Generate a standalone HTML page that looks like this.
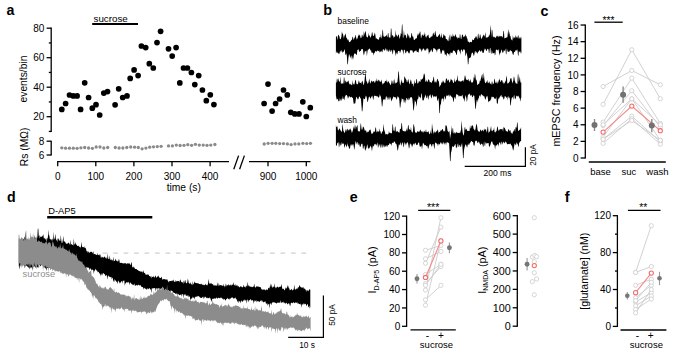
<!DOCTYPE html>
<html><head><meta charset="utf-8"><style>
html,body{margin:0;padding:0;background:#fff;width:685px;height:355px;overflow:hidden}
svg{display:block;font-family:"Liberation Sans", sans-serif}
</style></head><body>
<svg width="685" height="355" viewBox="0 0 685 355">
<rect width="685" height="355" fill="#fff"/>
<text x="6.5" y="15" font-size="14.2" text-anchor="start" font-weight="bold" fill="#000" >a</text>
<line x1="51.2" y1="27.6" x2="51.2" y2="132.05" stroke="#000" stroke-width="1.3" />
<line x1="46.6" y1="28.2" x2="51.2" y2="28.2" stroke="#000" stroke-width="1.3" />
<text x="44.3" y="31.8" font-size="10" text-anchor="end" font-weight="normal" fill="#000" >80</text>
<line x1="46.6" y1="57.7" x2="51.2" y2="57.7" stroke="#000" stroke-width="1.3" />
<text x="44.3" y="61.3" font-size="10" text-anchor="end" font-weight="normal" fill="#000" >60</text>
<line x1="46.6" y1="87.2" x2="51.2" y2="87.2" stroke="#000" stroke-width="1.3" />
<text x="44.3" y="90.8" font-size="10" text-anchor="end" font-weight="normal" fill="#000" >40</text>
<line x1="46.6" y1="116.7" x2="51.2" y2="116.7" stroke="#000" stroke-width="1.3" />
<text x="44.3" y="120.3" font-size="10" text-anchor="end" font-weight="normal" fill="#000" >20</text>
<line x1="48.8" y1="42.95" x2="51.2" y2="42.95" stroke="#000" stroke-width="1.3" />
<line x1="48.8" y1="72.45" x2="51.2" y2="72.45" stroke="#000" stroke-width="1.3" />
<line x1="48.8" y1="101.95" x2="51.2" y2="101.95" stroke="#000" stroke-width="1.3" />
<line x1="48.8" y1="131.45" x2="51.2" y2="131.45" stroke="#000" stroke-width="1.3" />
<line x1="51.2" y1="140.8" x2="51.2" y2="155.4" stroke="#000" stroke-width="1.3" />
<line x1="46.6" y1="141.2" x2="51.2" y2="141.2" stroke="#000" stroke-width="1.3" />
<text x="44.3" y="144.8" font-size="10" text-anchor="end" font-weight="normal" fill="#000" >8</text>
<line x1="46.6" y1="155" x2="51.2" y2="155" stroke="#000" stroke-width="1.3" />
<text x="44.3" y="158.6" font-size="10" text-anchor="end" font-weight="normal" fill="#000" >6</text>
<line x1="57.1" y1="161.7" x2="229" y2="161.7" stroke="#000" stroke-width="1.3" />
<line x1="57.7" y1="161.7" x2="57.7" y2="166.3" stroke="#000" stroke-width="1.3" />
<text x="57.7" y="179.5" font-size="10" text-anchor="middle" font-weight="normal" fill="#000" >0</text>
<line x1="95.8" y1="161.7" x2="95.8" y2="166.3" stroke="#000" stroke-width="1.3" />
<text x="95.8" y="179.5" font-size="10" text-anchor="middle" font-weight="normal" fill="#000" >100</text>
<line x1="133.9" y1="161.7" x2="133.9" y2="166.3" stroke="#000" stroke-width="1.3" />
<text x="133.9" y="179.5" font-size="10" text-anchor="middle" font-weight="normal" fill="#000" >200</text>
<line x1="172" y1="161.7" x2="172" y2="166.3" stroke="#000" stroke-width="1.3" />
<text x="172" y="179.5" font-size="10" text-anchor="middle" font-weight="normal" fill="#000" >300</text>
<line x1="210.1" y1="161.7" x2="210.1" y2="166.3" stroke="#000" stroke-width="1.3" />
<text x="210.1" y="179.5" font-size="10" text-anchor="middle" font-weight="normal" fill="#000" >400</text>
<line x1="249" y1="161.7" x2="310.5" y2="161.7" stroke="#000" stroke-width="1.3" />
<line x1="268" y1="161.7" x2="268" y2="166.3" stroke="#000" stroke-width="1.3" />
<text x="268" y="179.5" font-size="10" text-anchor="middle" font-weight="normal" fill="#000" >900</text>
<line x1="306.3" y1="161.7" x2="306.3" y2="166.3" stroke="#000" stroke-width="1.3" />
<text x="306.3" y="179.5" font-size="10" text-anchor="middle" font-weight="normal" fill="#000" >1000</text>
<line x1="233.8" y1="169.2" x2="238.6" y2="155.6" stroke="#000" stroke-width="1.3" />
<line x1="239.6" y1="169.2" x2="244.4" y2="155.6" stroke="#000" stroke-width="1.3" />
<text x="183.8" y="190.6" font-size="10.3" text-anchor="middle" font-weight="normal" fill="#000" >time (s)</text>
<text x="27.4" y="79" font-size="10.3" text-anchor="middle" font-weight="normal" fill="#000" transform="rotate(-90 27.4 79)" >events/bin</text>
<text x="28.1" y="146.9" font-size="10.3" text-anchor="middle" font-weight="normal" fill="#000" transform="rotate(-90 28.1 146.9)" >Rs (M&#937;)</text>
<line x1="92.2" y1="24" x2="138" y2="24" stroke="#000" stroke-width="2.2" />
<text x="93.5" y="21.6" font-size="9.8" text-anchor="start" font-weight="normal" fill="#000" >sucrose</text>
<circle cx="61.8" cy="109.4" r="2.85" fill="#000" stroke="none" stroke-width="0"/>
<circle cx="65.6" cy="103.5" r="2.85" fill="#000" stroke="none" stroke-width="0"/>
<circle cx="69.5" cy="95" r="2.85" fill="#000" stroke="none" stroke-width="0"/>
<circle cx="73.3" cy="95.9" r="2.85" fill="#000" stroke="none" stroke-width="0"/>
<circle cx="77.1" cy="95.9" r="2.85" fill="#000" stroke="none" stroke-width="0"/>
<circle cx="80.6" cy="109.4" r="2.85" fill="#000" stroke="none" stroke-width="0"/>
<circle cx="84.7" cy="82.8" r="2.85" fill="#000" stroke="none" stroke-width="0"/>
<circle cx="88.6" cy="97.5" r="2.85" fill="#000" stroke="none" stroke-width="0"/>
<circle cx="92.3" cy="108.2" r="2.85" fill="#000" stroke="none" stroke-width="0"/>
<circle cx="96" cy="104.7" r="2.85" fill="#000" stroke="none" stroke-width="0"/>
<circle cx="99.7" cy="115" r="2.85" fill="#000" stroke="none" stroke-width="0"/>
<circle cx="103.8" cy="93.1" r="2.85" fill="#000" stroke="none" stroke-width="0"/>
<circle cx="107.5" cy="91.6" r="2.85" fill="#000" stroke="none" stroke-width="0"/>
<circle cx="115.1" cy="104.8" r="2.85" fill="#000" stroke="none" stroke-width="0"/>
<circle cx="118.7" cy="88.8" r="2.85" fill="#000" stroke="none" stroke-width="0"/>
<circle cx="122.7" cy="97.5" r="2.85" fill="#000" stroke="none" stroke-width="0"/>
<circle cx="127" cy="95.9" r="2.85" fill="#000" stroke="none" stroke-width="0"/>
<circle cx="130.2" cy="78.4" r="2.85" fill="#000" stroke="none" stroke-width="0"/>
<circle cx="134.1" cy="69.9" r="2.85" fill="#000" stroke="none" stroke-width="0"/>
<circle cx="138.1" cy="75.6" r="2.85" fill="#000" stroke="none" stroke-width="0"/>
<circle cx="141.4" cy="46" r="2.85" fill="#000" stroke="none" stroke-width="0"/>
<circle cx="145.7" cy="47.6" r="2.85" fill="#000" stroke="none" stroke-width="0"/>
<circle cx="149.3" cy="63.7" r="2.85" fill="#000" stroke="none" stroke-width="0"/>
<circle cx="153.3" cy="68" r="2.85" fill="#000" stroke="none" stroke-width="0"/>
<circle cx="157" cy="42.6" r="2.85" fill="#000" stroke="none" stroke-width="0"/>
<circle cx="160.6" cy="31.3" r="2.85" fill="#000" stroke="none" stroke-width="0"/>
<circle cx="168.5" cy="48.8" r="2.85" fill="#000" stroke="none" stroke-width="0"/>
<circle cx="172.2" cy="56.1" r="2.85" fill="#000" stroke="none" stroke-width="0"/>
<circle cx="176.1" cy="47.6" r="2.85" fill="#000" stroke="none" stroke-width="0"/>
<circle cx="179.8" cy="82.9" r="2.85" fill="#000" stroke="none" stroke-width="0"/>
<circle cx="183.5" cy="68" r="2.85" fill="#000" stroke="none" stroke-width="0"/>
<circle cx="187.4" cy="68" r="2.85" fill="#000" stroke="none" stroke-width="0"/>
<circle cx="191.4" cy="72.5" r="2.85" fill="#000" stroke="none" stroke-width="0"/>
<circle cx="194.8" cy="84.6" r="2.85" fill="#000" stroke="none" stroke-width="0"/>
<circle cx="198.7" cy="75.6" r="2.85" fill="#000" stroke="none" stroke-width="0"/>
<circle cx="202.4" cy="90" r="2.85" fill="#000" stroke="none" stroke-width="0"/>
<circle cx="206.3" cy="100.7" r="2.85" fill="#000" stroke="none" stroke-width="0"/>
<circle cx="210.3" cy="94.8" r="2.85" fill="#000" stroke="none" stroke-width="0"/>
<circle cx="213.9" cy="104.6" r="2.85" fill="#000" stroke="none" stroke-width="0"/>
<circle cx="264.1" cy="103.5" r="2.85" fill="#000" stroke="none" stroke-width="0"/>
<circle cx="268" cy="84.1" r="2.85" fill="#000" stroke="none" stroke-width="0"/>
<circle cx="272.1" cy="111.1" r="2.85" fill="#000" stroke="none" stroke-width="0"/>
<circle cx="275.6" cy="103.5" r="2.85" fill="#000" stroke="none" stroke-width="0"/>
<circle cx="279.6" cy="99" r="2.85" fill="#000" stroke="none" stroke-width="0"/>
<circle cx="283.5" cy="90" r="2.85" fill="#000" stroke="none" stroke-width="0"/>
<circle cx="287.3" cy="94.9" r="2.85" fill="#000" stroke="none" stroke-width="0"/>
<circle cx="290.8" cy="112.3" r="2.85" fill="#000" stroke="none" stroke-width="0"/>
<circle cx="294.8" cy="113.9" r="2.85" fill="#000" stroke="none" stroke-width="0"/>
<circle cx="299" cy="113.9" r="2.85" fill="#000" stroke="none" stroke-width="0"/>
<circle cx="302.8" cy="101.8" r="2.85" fill="#000" stroke="none" stroke-width="0"/>
<circle cx="306.3" cy="116.5" r="2.85" fill="#000" stroke="none" stroke-width="0"/>
<circle cx="310.3" cy="107.7" r="2.85" fill="#000" stroke="none" stroke-width="0"/>
<circle cx="61.8" cy="147.8" r="1.65" fill="#8a8a8a" stroke="none" stroke-width="0"/>
<circle cx="65.6" cy="148.2" r="1.65" fill="#8a8a8a" stroke="none" stroke-width="0"/>
<circle cx="69.5" cy="148.2" r="1.65" fill="#8a8a8a" stroke="none" stroke-width="0"/>
<circle cx="73.3" cy="148.2" r="1.65" fill="#8a8a8a" stroke="none" stroke-width="0"/>
<circle cx="77.1" cy="148.3" r="1.65" fill="#8a8a8a" stroke="none" stroke-width="0"/>
<circle cx="80.9" cy="147.8" r="1.65" fill="#8a8a8a" stroke="none" stroke-width="0"/>
<circle cx="84.7" cy="147.5" r="1.65" fill="#8a8a8a" stroke="none" stroke-width="0"/>
<circle cx="88.6" cy="148" r="1.65" fill="#8a8a8a" stroke="none" stroke-width="0"/>
<circle cx="92.4" cy="148.3" r="1.65" fill="#8a8a8a" stroke="none" stroke-width="0"/>
<circle cx="96.2" cy="147" r="1.65" fill="#8a8a8a" stroke="none" stroke-width="0"/>
<circle cx="100" cy="147" r="1.65" fill="#8a8a8a" stroke="none" stroke-width="0"/>
<circle cx="103.8" cy="148" r="1.65" fill="#8a8a8a" stroke="none" stroke-width="0"/>
<circle cx="107.7" cy="147.5" r="1.65" fill="#8a8a8a" stroke="none" stroke-width="0"/>
<circle cx="115.3" cy="147.5" r="1.65" fill="#8a8a8a" stroke="none" stroke-width="0"/>
<circle cx="119.1" cy="148" r="1.65" fill="#8a8a8a" stroke="none" stroke-width="0"/>
<circle cx="122.9" cy="148" r="1.65" fill="#8a8a8a" stroke="none" stroke-width="0"/>
<circle cx="126.8" cy="147.5" r="1.65" fill="#8a8a8a" stroke="none" stroke-width="0"/>
<circle cx="130.7" cy="147" r="1.65" fill="#8a8a8a" stroke="none" stroke-width="0"/>
<circle cx="134.6" cy="147.2" r="1.65" fill="#8a8a8a" stroke="none" stroke-width="0"/>
<circle cx="138.3" cy="147.5" r="1.65" fill="#8a8a8a" stroke="none" stroke-width="0"/>
<circle cx="142.1" cy="148.8" r="1.65" fill="#8a8a8a" stroke="none" stroke-width="0"/>
<circle cx="145.9" cy="148.1" r="1.65" fill="#8a8a8a" stroke="none" stroke-width="0"/>
<circle cx="149.7" cy="147.2" r="1.65" fill="#8a8a8a" stroke="none" stroke-width="0"/>
<circle cx="153.5" cy="146.8" r="1.65" fill="#8a8a8a" stroke="none" stroke-width="0"/>
<circle cx="157.3" cy="146.6" r="1.65" fill="#8a8a8a" stroke="none" stroke-width="0"/>
<circle cx="161.1" cy="146.3" r="1.65" fill="#8a8a8a" stroke="none" stroke-width="0"/>
<circle cx="168.5" cy="145.9" r="1.65" fill="#8a8a8a" stroke="none" stroke-width="0"/>
<circle cx="172.4" cy="145.9" r="1.65" fill="#8a8a8a" stroke="none" stroke-width="0"/>
<circle cx="176.3" cy="145.1" r="1.65" fill="#8a8a8a" stroke="none" stroke-width="0"/>
<circle cx="180.1" cy="145.5" r="1.65" fill="#8a8a8a" stroke="none" stroke-width="0"/>
<circle cx="184" cy="145.3" r="1.65" fill="#8a8a8a" stroke="none" stroke-width="0"/>
<circle cx="187.8" cy="144.7" r="1.65" fill="#8a8a8a" stroke="none" stroke-width="0"/>
<circle cx="191.6" cy="145.3" r="1.65" fill="#8a8a8a" stroke="none" stroke-width="0"/>
<circle cx="195.4" cy="144.3" r="1.65" fill="#8a8a8a" stroke="none" stroke-width="0"/>
<circle cx="199.3" cy="145.1" r="1.65" fill="#8a8a8a" stroke="none" stroke-width="0"/>
<circle cx="203.2" cy="145.1" r="1.65" fill="#8a8a8a" stroke="none" stroke-width="0"/>
<circle cx="207" cy="145.3" r="1.65" fill="#8a8a8a" stroke="none" stroke-width="0"/>
<circle cx="210.8" cy="145.1" r="1.65" fill="#8a8a8a" stroke="none" stroke-width="0"/>
<circle cx="214.9" cy="144.5" r="1.65" fill="#8a8a8a" stroke="none" stroke-width="0"/>
<circle cx="264.2" cy="144" r="1.65" fill="#8a8a8a" stroke="none" stroke-width="0"/>
<circle cx="268.1" cy="143.3" r="1.65" fill="#8a8a8a" stroke="none" stroke-width="0"/>
<circle cx="272.1" cy="143.3" r="1.65" fill="#8a8a8a" stroke="none" stroke-width="0"/>
<circle cx="275.8" cy="143.3" r="1.65" fill="#8a8a8a" stroke="none" stroke-width="0"/>
<circle cx="279.7" cy="143.6" r="1.65" fill="#8a8a8a" stroke="none" stroke-width="0"/>
<circle cx="283.5" cy="143.6" r="1.65" fill="#8a8a8a" stroke="none" stroke-width="0"/>
<circle cx="287.4" cy="143.9" r="1.65" fill="#8a8a8a" stroke="none" stroke-width="0"/>
<circle cx="291.1" cy="144.6" r="1.65" fill="#8a8a8a" stroke="none" stroke-width="0"/>
<circle cx="295" cy="143.9" r="1.65" fill="#8a8a8a" stroke="none" stroke-width="0"/>
<circle cx="298.8" cy="143.9" r="1.65" fill="#8a8a8a" stroke="none" stroke-width="0"/>
<circle cx="302.9" cy="143.3" r="1.65" fill="#8a8a8a" stroke="none" stroke-width="0"/>
<circle cx="306.7" cy="143.6" r="1.65" fill="#8a8a8a" stroke="none" stroke-width="0"/>
<circle cx="310.4" cy="143.3" r="1.65" fill="#8a8a8a" stroke="none" stroke-width="0"/>
<text x="323.3" y="15.3" font-size="14.5" text-anchor="start" font-weight="bold" fill="#000" >b</text>
<text x="337.6" y="23.5" font-size="8.4" text-anchor="start" font-weight="normal" fill="#000" >baseline</text>
<text x="337.4" y="75.2" font-size="8.4" text-anchor="start" font-weight="normal" fill="#000" >sucrose</text>
<text x="337.4" y="123.2" font-size="8.4" text-anchor="start" font-weight="normal" fill="#000" >wash</text>
<path d="M335.9 37.43 L336.4 35.67 L336.9 36.76 L337.4 40.35 L337.9 36.12 L338.4 34.4 L338.9 35.52 L339.4 36.14 L339.9 38.95 L340.4 39.2 L340.9 38.38 L341.4 36.61 L341.9 31.35 L342.4 33.72 L342.9 33.39 L343.4 35.99 L343.9 38.58 L344.4 35.93 L344.9 35.11 L345.4 33.24 L345.9 35.22 L346.4 38.41 L346.9 37.59 L347.4 40.39 L347.9 38.88 L348.4 39.79 L348.9 41.56 L349.4 42.26 L349.9 42.02 L350.4 41.38 L350.9 40.66 L351.4 40.01 L351.9 39.69 L352.4 37.14 L352.9 36.57 L353.4 39.19 L353.9 39.96 L354.4 37.38 L354.9 37.78 L355.4 35.67 L355.9 34.85 L356.4 40 L356.9 38.09 L357.4 38.97 L357.9 36.72 L358.4 34.37 L358.9 36.14 L359.4 35.13 L359.9 34.13 L360.4 37.3 L360.9 38.18 L361.4 37.84 L361.9 34.49 L362.4 34.92 L362.9 36.95 L363.4 36.27 L363.9 31.07 L364.4 35.34 L364.9 32.54 L365.4 30.76 L365.9 32.65 L366.4 36.49 L366.9 36.99 L367.4 37.54 L367.9 37.31 L368.4 32.47 L368.9 36.14 L369.4 35.07 L369.9 36.6 L370.4 37.89 L370.9 36.4 L371.4 35.82 L371.9 32.6 L372.4 32.26 L372.9 35.76 L373.4 35.83 L373.9 35.95 L374.4 33.98 L374.9 32.51 L375.4 35.26 L375.9 39.06 L376.4 38.11 L376.9 38.65 L377.4 39.61 L377.9 39.11 L378.4 39.87 L378.9 39.66 L379.4 37.56 L379.9 36.79 L380.4 37.64 L380.9 33.66 L381.4 37.29 L381.9 38.74 L382.4 31.08 L382.9 29.17 L383.4 36.34 L383.9 36.62 L384.4 36.68 L384.9 36.73 L385.4 36.34 L385.9 35.98 L386.4 34.6 L386.9 36.27 L387.4 37.45 L387.9 33.14 L388.4 33.09 L388.9 37.63 L389.4 37.46 L389.9 37.18 L390.4 37.7 L390.9 28.2 L391.4 28.83 L391.9 36.44 L392.4 34.66 L392.9 35.38 L393.4 38.35 L393.9 35.43 L394.4 37.26 L394.9 36.81 L395.4 29.7 L395.9 36.91 L396.4 35.06 L396.9 34.54 L397.4 37.06 L397.9 35.93 L398.4 34.81 L398.9 34.22 L399.4 39 L399.9 37.43 L400.4 35.77 L400.9 32.77 L401.4 34.42 L401.9 25.6 L402.4 23.8 L402.9 38.12 L403.4 37.45 L403.9 30.02 L404.4 34.66 L404.9 35.64 L405.4 34.61 L405.9 35.53 L406.4 37.67 L406.9 38.44 L407.4 33.9 L407.9 33.13 L408.4 37.02 L408.9 34.46 L409.4 37.21 L409.9 38.49 L410.4 38.11 L410.9 37.12 L411.4 33.6 L411.9 32.75 L412.4 37.27 L412.9 35.73 L413.4 37.39 L413.9 39.99 L414.4 39.93 L414.9 39.4 L415.4 38.73 L415.9 38.5 L416.4 38.51 L416.9 37.63 L417.4 33.36 L417.9 36.09 L418.4 34.85 L418.9 33.35 L419.4 33.79 L419.9 31.19 L420.4 32 L420.9 37.87 L421.4 37.63 L421.9 34.69 L422.4 34.54 L422.9 35.56 L423.4 36.16 L423.9 34.21 L424.4 34.95 L424.9 31.97 L425.4 36.08 L425.9 37.39 L426.4 37.41 L426.9 35.65 L427.4 35.71 L427.9 35.04 L428.4 34.57 L428.9 37.52 L429.4 37.96 L429.9 38.3 L430.4 37.61 L430.9 36.47 L431.4 36.98 L431.9 35.64 L432.4 36.55 L432.9 33.49 L433.4 32.62 L433.9 34.49 L434.4 35.51 L434.9 31.89 L435.4 30.77 L435.9 34.36 L436.4 36.59 L436.9 36.98 L437.4 37.07 L437.9 36.48 L438.4 35.41 L438.9 35.29 L439.4 33.58 L439.9 34.67 L440.4 36.46 L440.9 38.01 L441.4 32.61 L441.9 37.28 L442.4 38.3 L442.9 37.36 L443.4 35.02 L443.9 33.84 L444.4 36.05 L444.9 35.41 L445.4 36.01 L445.9 39.25 L446.4 38.9 L446.9 39.23 L447.4 40.11 L447.9 40.93 L448.4 41.16 L448.9 37.27 L449.4 34.23 L449.9 40.88 L450.4 39.27 L450.9 34.3 L451.4 36.8 L451.9 36.57 L452.4 36.99 L452.9 33.36 L453.4 36.48 L453.9 35.42 L454.4 37.05 L454.9 35.59 L455.4 33.7 L455.9 35.81 L456.4 36.95 L456.9 37.56 L457.4 39.08 L457.9 36.86 L458.4 37.95 L458.9 37.64 L459.4 38.44 L459.9 33.54 L460.4 35.17 L460.9 39.37 L461.4 38.72 L461.9 35.51 L462.4 34.39 L462.9 34.79 L463.4 37.12 L463.9 37.3 L464.4 36.55 L464.9 35.83 L465.4 33.98 L465.9 36.57 L466.4 35.74 L466.9 38.16 L467.4 38.61 L467.9 42.04 L468.4 41.53 L468.9 41.78 L469.4 42.88 L469.9 41.93 L470.4 41.66 L470.9 42 L471.4 42.19 L471.9 41.72 L472.4 39.3 L472.9 39.76 L473.4 40.03 L473.9 39.94 L474.4 38.18 L474.9 38.1 L475.4 37.6 L475.9 35.88 L476.4 36.46 L476.9 37.96 L477.4 39.58 L477.9 34.32 L478.4 33.53 L478.9 38.53 L479.4 37.91 L479.9 34.45 L480.4 34.4 L480.9 37.72 L481.4 38.8 L481.9 38.68 L482.4 36.61 L482.9 36.59 L483.4 34.97 L483.9 34.56 L484.4 36.84 L484.9 35.09 L485.4 31.92 L485.9 37.98 L486.4 37.13 L486.9 37.73 L487.4 37.52 L487.9 37.07 L488.4 36.91 L488.9 35.58 L489.4 35.45 L489.9 34.04 L490.4 28.98 L490.9 24.71 L491.4 37.73 L491.9 29.8 L492.4 30.22 L492.9 37.36 L493.4 37.22 L493.9 36.16 L494.4 36.92 L494.9 37.44 L495.4 37.55 L495.9 38.1 L496.4 36.28 L496.9 35.83 L497.4 36.66 L497.9 35.37 L498.4 36.49 L498.9 37.28 L499.4 36.16 L499.9 35.6 L500.4 36.31 L500.9 36.57 L501.4 35.93 L501.9 36.58 L502.4 37.69 L502.9 36.08 L503.4 31.2 L503.9 30.73 L504.4 38.41 L504.9 38.34 L505.4 37.85 L505.9 38.08 L506.4 37.62 L506.9 37.15 L507.4 37.16 L507.9 32.06 L508.4 29 L508.9 34.7 L509.4 31.57 L509.9 35.95 L510.4 35.85 L510.9 38.87 L511.4 39.5 L511.9 40.35 L512.4 40.56 L512.9 35.08 L513.4 39.25 L513.9 36.68 L514.4 37.73 L514.9 37.79 L515.4 34.85 L515.9 38.43 L516.4 37.11 L516.9 36.46 L517.4 38.46 L517.9 35.51 L518.4 35.35 L518.9 38.99 L519.4 38.21 L519.9 37.11 L520.4 37.27 L520.9 39.22 L521.4 36.01 L521.4 52.55 L520.9 53.84 L520.4 51.49 L519.9 51.48 L519.4 52.18 L518.9 50.67 L518.4 56.39 L517.9 54.44 L517.4 48.92 L516.9 51.23 L516.4 49.65 L515.9 49.9 L515.4 50.69 L514.9 52 L514.4 51.7 L513.9 52.6 L513.4 55.17 L512.9 54.55 L512.4 53.19 L511.9 50.97 L511.4 51.35 L510.9 50.94 L510.4 50.05 L509.9 50.44 L509.4 51.87 L508.9 51.66 L508.4 51.67 L507.9 52.05 L507.4 50.82 L506.9 48.23 L506.4 54.58 L505.9 53.64 L505.4 48.57 L504.9 50.41 L504.4 51.09 L503.9 50.07 L503.4 51.92 L502.9 53.22 L502.4 52.2 L501.9 50.8 L501.4 49.29 L500.9 51.41 L500.4 53.15 L499.9 53.6 L499.4 55.83 L498.9 51.53 L498.4 49.08 L497.9 50.23 L497.4 50.18 L496.9 49.38 L496.4 49.81 L495.9 49.75 L495.4 54.52 L494.9 55.44 L494.4 52.54 L493.9 53.18 L493.4 53.12 L492.9 53.56 L492.4 52.97 L491.9 49.76 L491.4 53.9 L490.9 53.56 L490.4 47.65 L489.9 48.22 L489.4 52.85 L488.9 53.22 L488.4 49.37 L487.9 49.02 L487.4 48.78 L486.9 50.57 L486.4 51.33 L485.9 49.9 L485.4 48.55 L484.9 50.19 L484.4 48.36 L483.9 52.56 L483.4 52.7 L482.9 53 L482.4 52.48 L481.9 50.03 L481.4 51.25 L480.9 51.35 L480.4 52.11 L479.9 50.25 L479.4 50.14 L478.9 51.57 L478.4 51.6 L477.9 52.85 L477.4 53.91 L476.9 51.53 L476.4 52.56 L475.9 52.98 L475.4 50.75 L474.9 51.42 L474.4 54.28 L473.9 56.34 L473.4 54.81 L472.9 52.9 L472.4 52.55 L471.9 52.81 L471.4 54.27 L470.9 56.67 L470.4 57.46 L469.9 58.62 L469.4 57.79 L468.9 58.25 L468.4 64.1 L467.9 64.4 L467.4 57.02 L466.9 54.37 L466.4 52.35 L465.9 55.07 L465.4 56.58 L464.9 48.77 L464.4 50.39 L463.9 49.64 L463.4 48.85 L462.9 51.41 L462.4 51.7 L461.9 49.29 L461.4 49.75 L460.9 50.14 L460.4 54.8 L459.9 52.19 L459.4 51.1 L458.9 49.82 L458.4 49.85 L457.9 49.81 L457.4 50.45 L456.9 54.5 L456.4 55.37 L455.9 53 L455.4 52.49 L454.9 51.25 L454.4 50.7 L453.9 50.72 L453.4 50.37 L452.9 51.14 L452.4 53.21 L451.9 53.17 L451.4 52.66 L450.9 52.45 L450.4 52.4 L449.9 56.65 L449.4 52.97 L448.9 54.45 L448.4 54.37 L447.9 53.8 L447.4 52.75 L446.9 53.21 L446.4 56.79 L445.9 54.84 L445.4 54.21 L444.9 55.04 L444.4 52.25 L443.9 49.27 L443.4 51.38 L442.9 50.56 L442.4 50.05 L441.9 52.08 L441.4 53.7 L440.9 54 L440.4 51.69 L439.9 48.9 L439.4 48.65 L438.9 48.42 L438.4 49.52 L437.9 49.29 L437.4 49.86 L436.9 52.65 L436.4 50.22 L435.9 49.48 L435.4 49.52 L434.9 49.06 L434.4 48.21 L433.9 48.01 L433.4 48.22 L432.9 51.18 L432.4 52.29 L431.9 51.35 L431.4 49.26 L430.9 50.07 L430.4 51.49 L429.9 52.03 L429.4 52.24 L428.9 54.41 L428.4 49.66 L427.9 47.91 L427.4 48.51 L426.9 50.46 L426.4 48.34 L425.9 49.33 L425.4 50.65 L424.9 50.97 L424.4 49.67 L423.9 49.04 L423.4 48.59 L422.9 48.62 L422.4 50.7 L421.9 49.15 L421.4 52.18 L420.9 50.26 L420.4 48.45 L419.9 48.71 L419.4 48.23 L418.9 50.24 L418.4 53.07 L417.9 51.87 L417.4 52.08 L416.9 52.25 L416.4 50.47 L415.9 50.34 L415.4 50.93 L414.9 51.21 L414.4 51.26 L413.9 51.88 L413.4 52.92 L412.9 52.24 L412.4 50.48 L411.9 50.31 L411.4 50.41 L410.9 50.21 L410.4 49.89 L409.9 51.42 L409.4 53.49 L408.9 53.44 L408.4 52.68 L407.9 51.87 L407.4 51.02 L406.9 50.77 L406.4 51.92 L405.9 53.57 L405.4 52.9 L404.9 50.46 L404.4 49.44 L403.9 50.08 L403.4 54.64 L402.9 51.7 L402.4 49.8 L401.9 49.88 L401.4 49.25 L400.9 50.43 L400.4 52.28 L399.9 53 L399.4 50.65 L398.9 51.09 L398.4 50.84 L397.9 51.43 L397.4 54.03 L396.9 54.54 L396.4 52.64 L395.9 52.15 L395.4 56.83 L394.9 51.25 L394.4 50.32 L393.9 49.93 L393.4 49.53 L392.9 54.41 L392.4 53.49 L391.9 49.51 L391.4 50.39 L390.9 52.17 L390.4 51.26 L389.9 49.22 L389.4 50.52 L388.9 52.1 L388.4 51.42 L387.9 49.02 L387.4 51.07 L386.9 51.46 L386.4 49.8 L385.9 47.98 L385.4 49.24 L384.9 50.43 L384.4 50.74 L383.9 49.04 L383.4 49.84 L382.9 49.35 L382.4 52.29 L381.9 52.35 L381.4 50.62 L380.9 51.7 L380.4 51.92 L379.9 50.16 L379.4 52.65 L378.9 51.25 L378.4 50.95 L377.9 50.4 L377.4 50.81 L376.9 50.99 L376.4 51.97 L375.9 51.07 L375.4 51.06 L374.9 52.15 L374.4 53.22 L373.9 53.06 L373.4 55.67 L372.9 52.25 L372.4 52.7 L371.9 53 L371.4 52.11 L370.9 49.44 L370.4 51.01 L369.9 48.81 L369.4 48.58 L368.9 49.14 L368.4 49.72 L367.9 49.41 L367.4 52.12 L366.9 56.6 L366.4 50.53 L365.9 51.25 L365.4 51.43 L364.9 50.83 L364.4 53.5 L363.9 55.49 L363.4 53.45 L362.9 49.04 L362.4 49.2 L361.9 49.09 L361.4 49.19 L360.9 50.76 L360.4 51.01 L359.9 51.34 L359.4 52.33 L358.9 50.64 L358.4 49.11 L357.9 49.9 L357.4 49.8 L356.9 54.42 L356.4 54.88 L355.9 54.3 L355.4 53.56 L354.9 53.49 L354.4 53.4 L353.9 54.73 L353.4 57.89 L352.9 60.1 L352.4 55.94 L351.9 59.63 L351.4 55.53 L350.9 55.91 L350.4 58.28 L349.9 56.46 L349.4 54.27 L348.9 54.75 L348.4 57.96 L347.9 64.1 L347.4 64.4 L346.9 56.67 L346.4 53.17 L345.9 54.55 L345.4 55.25 L344.9 50.74 L344.4 48.98 L343.9 50.9 L343.4 52.28 L342.9 51.45 L342.4 53.55 L341.9 49.78 L341.4 51.19 L340.9 52.69 L340.4 50.5 L339.9 51.56 L339.4 53.68 L338.9 54.35 L338.4 53.32 L337.9 52.83 L337.4 52.89 L336.9 51.03 L336.4 52.69 L335.9 53.49Z" fill="#000" stroke="none" />
<path d="M335.9 82.38 L336.4 82.75 L336.9 78.57 L337.4 78.97 L337.9 82.13 L338.4 77.78 L338.9 80.59 L339.4 81.87 L339.9 81.71 L340.4 76.19 L340.9 83.82 L341.4 84.11 L341.9 82.74 L342.4 83.31 L342.9 83.92 L343.4 83.13 L343.9 77.33 L344.4 77.72 L344.9 83.87 L345.39 80.81 L345.89 80.83 L346.39 82.33 L346.89 82.47 L347.39 81.47 L347.89 81.39 L348.39 80.27 L348.89 82.57 L349.39 84.07 L349.89 84.46 L350.39 84.44 L350.89 83.4 L351.39 85.33 L351.89 85.07 L352.39 79.9 L352.89 85.45 L353.39 83.73 L353.89 83.81 L354.39 84.84 L354.89 81.97 L355.39 79.49 L355.89 80.39 L356.39 83.59 L356.89 84.32 L357.39 84.08 L357.89 84.46 L358.39 82.06 L358.89 80.32 L359.39 81.91 L359.89 83.22 L360.39 83.11 L360.89 82.87 L361.39 81.43 L361.89 84.44 L362.39 80.57 L362.89 81.35 L363.39 85.22 L363.88 84.57 L364.38 81.97 L364.88 76.67 L365.38 72.22 L365.88 76.59 L366.38 81.4 L366.88 81.27 L367.38 83.61 L367.88 83.81 L368.38 82.78 L368.88 80.58 L369.38 78.51 L369.88 82.61 L370.38 83.68 L370.88 82.12 L371.38 81.03 L371.88 80.48 L372.38 81.55 L372.88 82.56 L373.38 80.97 L373.88 80.96 L374.38 81.78 L374.88 83.25 L375.38 81.7 L375.88 80.25 L376.38 81.27 L376.88 77.94 L377.38 81.48 L377.88 81.3 L378.38 80.25 L378.88 79.61 L379.38 80.66 L379.88 81.79 L380.38 81.62 L380.88 82 L381.38 79.36 L381.88 81.9 L382.37 84.92 L382.87 83.1 L383.37 84.09 L383.87 83.06 L384.37 82.97 L384.87 81.44 L385.37 80.96 L385.87 80.74 L386.37 82.01 L386.87 79.02 L387.37 82.4 L387.87 82.54 L388.37 80.78 L388.87 81.95 L389.37 83.21 L389.87 83.62 L390.37 85.27 L390.87 84.74 L391.37 82.84 L391.87 79.88 L392.37 81.22 L392.87 84.19 L393.37 83.29 L393.87 79.68 L394.37 79.37 L394.87 83.66 L395.37 83.38 L395.87 82.17 L396.37 83.07 L396.87 82.58 L397.37 81.94 L397.87 77.84 L398.37 71.47 L398.87 71.61 L399.37 79.68 L399.87 83.84 L400.37 85.8 L400.86 82.45 L401.36 81.34 L401.86 79.33 L402.36 83.07 L402.86 82.96 L403.36 82.16 L403.86 83.57 L404.36 76.54 L404.86 76.76 L405.36 78.33 L405.86 79.2 L406.36 79.73 L406.86 82.19 L407.36 82.34 L407.86 79.96 L408.36 79 L408.86 81.83 L409.36 84.49 L409.86 83.03 L410.36 81 L410.86 79.33 L411.36 81.34 L411.86 84.37 L412.36 83.48 L412.86 83.98 L413.36 86.9 L413.86 83.45 L414.36 79.73 L414.86 84.17 L415.36 82.71 L415.86 83.28 L416.36 79.29 L416.86 78.74 L417.36 83.45 L417.86 83.53 L418.36 83.06 L418.86 81.17 L419.35 81.22 L419.85 81.39 L420.35 82.31 L420.85 78.76 L421.35 80.17 L421.85 78.92 L422.35 78.39 L422.85 78.94 L423.35 76.49 L423.85 73.81 L424.35 73.42 L424.85 75.27 L425.35 81.59 L425.85 81.95 L426.35 79.51 L426.85 81.87 L427.35 82.01 L427.85 80.95 L428.35 79.41 L428.85 79.2 L429.35 80.48 L429.85 82.48 L430.35 82.04 L430.85 82.24 L431.35 82.71 L431.85 82.65 L432.35 80.02 L432.85 81.5 L433.35 77.61 L433.85 76.38 L434.35 81.03 L434.85 82.66 L435.35 82.13 L435.85 80.96 L436.35 83.02 L436.85 80.13 L437.35 78.57 L437.85 79.58 L438.34 81.45 L438.84 80.46 L439.34 86.34 L439.84 87.12 L440.34 85.21 L440.84 84.73 L441.34 82.94 L441.84 81.9 L442.34 82.87 L442.84 80.43 L443.34 80.87 L443.84 82.3 L444.34 82.62 L444.84 83.22 L445.34 82.8 L445.84 79.23 L446.34 79.12 L446.84 77.87 L447.34 80.98 L447.84 80.49 L448.34 79.28 L448.84 80.52 L449.34 82.95 L449.84 81.76 L450.34 80.95 L450.84 78.5 L451.34 79.83 L451.84 79.76 L452.34 80.2 L452.84 82.02 L453.34 82.92 L453.84 83.07 L454.34 77.82 L454.84 81.71 L455.34 81.32 L455.84 81.88 L456.34 79.97 L456.83 80.05 L457.33 74.78 L457.83 79.22 L458.33 81.87 L458.83 80.14 L459.33 80.99 L459.83 81.5 L460.33 81.45 L460.83 81.49 L461.33 81.52 L461.83 81.03 L462.33 81.12 L462.83 79.88 L463.33 80.19 L463.83 82.34 L464.33 78.49 L464.83 75.6 L465.33 75.7 L465.83 78.75 L466.33 80.26 L466.83 79.37 L467.33 80.03 L467.83 80.19 L468.33 78.47 L468.83 80.99 L469.33 81.65 L469.83 80.48 L470.33 79.1 L470.83 81.14 L471.33 82 L471.83 82.88 L472.33 82.41 L472.83 82.16 L473.33 80.68 L473.83 76.42 L474.33 78.64 L474.83 73.61 L475.32 75.2 L475.82 79.55 L476.32 79.81 L476.82 81.12 L477.32 84.94 L477.82 84.92 L478.32 83.44 L478.82 84.16 L479.32 83.12 L479.82 80.46 L480.32 81.26 L480.82 78.84 L481.32 77.25 L481.82 75.1 L482.32 73.81 L482.82 78.93 L483.32 77.76 L483.82 71.95 L484.32 79.06 L484.82 81.85 L485.32 83.03 L485.82 83.32 L486.32 82.14 L486.82 81.23 L487.32 79.97 L487.82 83.05 L488.32 83.28 L488.82 82.34 L489.32 81.36 L489.82 83.14 L490.32 83.51 L490.82 83.92 L491.32 84.72 L491.82 81.39 L492.32 81.57 L492.82 84.56 L493.32 83.67 L493.81 83.46 L494.31 79.56 L494.81 78.5 L495.31 82.89 L495.81 82.57 L496.31 83.6 L496.81 81.33 L497.31 81.98 L497.81 84.07 L498.31 81.94 L498.81 80.36 L499.31 80.22 L499.81 78.31 L500.31 81.73 L500.81 81.92 L501.31 80.22 L501.81 79.99 L502.31 80.55 L502.81 82.41 L503.31 84 L503.81 81.79 L504.31 83.65 L504.81 82.4 L505.31 81.49 L505.81 80.82 L506.31 77.52 L506.81 75.37 L507.31 83.77 L507.81 83.36 L508.31 83.27 L508.81 82.68 L509.31 81.94 L509.81 81.14 L510.31 78.26 L510.81 78.43 L511.31 78.01 L511.81 80.72 L512.3 83.44 L512.8 82.09 L513.3 80.77 L513.8 76.56 L514.3 77.16 L514.8 80.8 L515.3 81.99 L515.8 83.49 L516.3 83.11 L516.8 83.98 L517.3 83.99 L517.8 74.98 L518.3 73.75 L518.8 82.28 L519.3 79.84 L519.8 75.98 L520.3 81.03 L520.8 83 L521.3 82.28 L521.3 97.5 L520.8 98.71 L520.3 101.69 L519.8 98.51 L519.3 97.69 L518.8 96.65 L518.3 95.81 L517.8 95.78 L517.3 96.75 L516.8 95.87 L516.3 95.79 L515.8 99.59 L515.3 98.22 L514.8 98.87 L514.3 95.04 L513.8 95.82 L513.3 99.72 L512.8 97.59 L512.3 97.01 L511.81 98.08 L511.31 99.91 L510.81 105.3 L510.31 105.6 L509.81 98.77 L509.31 97.18 L508.81 97.89 L508.31 95.56 L507.81 100.65 L507.31 96.58 L506.81 97.22 L506.31 98.16 L505.81 96.39 L505.31 96.62 L504.81 95.95 L504.31 98.55 L503.81 99.84 L503.31 98.79 L502.81 96.26 L502.31 97.62 L501.81 96.88 L501.31 94.7 L500.81 95.52 L500.31 96.57 L499.81 96.84 L499.31 98.31 L498.81 98.41 L498.31 98.76 L497.81 103.35 L497.31 104 L496.81 102.9 L496.31 96.32 L495.81 99.27 L495.31 98.44 L494.81 98.18 L494.31 99.12 L493.81 97.24 L493.32 97.1 L492.82 96.62 L492.32 97.41 L491.82 96.49 L491.32 97.83 L490.82 101.37 L490.32 98.88 L489.82 101.23 L489.32 101.1 L488.82 101.4 L488.32 102.4 L487.82 97.95 L487.32 95.73 L486.82 96.21 L486.32 97.04 L485.82 98.4 L485.32 100.07 L484.82 98.28 L484.32 96.21 L483.82 96.57 L483.32 95.63 L482.82 95.62 L482.32 95.37 L481.82 95.01 L481.32 93.85 L480.82 94.73 L480.32 97.03 L479.82 95.66 L479.32 95.31 L478.82 98.36 L478.32 98.41 L477.82 102.76 L477.32 99.86 L476.82 99.85 L476.32 103.08 L475.82 108.7 L475.32 109 L474.83 101.89 L474.33 96.06 L473.83 95.32 L473.33 95.53 L472.83 96.64 L472.33 97.52 L471.83 96.06 L471.33 94.53 L470.83 95.83 L470.33 95.49 L469.83 94.14 L469.33 93.3 L468.83 94.39 L468.33 94.53 L467.83 95.56 L467.33 99.75 L466.83 102.14 L466.33 97.63 L465.83 96.83 L465.33 95.09 L464.83 99.17 L464.33 102.26 L463.83 97.62 L463.33 99.81 L462.83 96.78 L462.33 94.41 L461.83 95.54 L461.33 96.58 L460.83 95.76 L460.33 96.59 L459.83 95.39 L459.33 96.23 L458.83 96.71 L458.33 95.26 L457.83 94.67 L457.33 94.69 L456.83 94.23 L456.34 94.03 L455.84 96.75 L455.34 99.6 L454.84 97.27 L454.34 97.24 L453.84 100.87 L453.34 102.62 L452.84 98.38 L452.34 97.42 L451.84 96.62 L451.34 97.12 L450.84 95.81 L450.34 95.54 L449.84 94.55 L449.34 96.82 L448.84 96.32 L448.34 94.56 L447.84 95.23 L447.34 96.1 L446.84 95.82 L446.34 95.18 L445.84 98.4 L445.34 99.69 L444.84 96.32 L444.34 96.71 L443.84 102.21 L443.34 98.44 L442.84 99.02 L442.34 98.26 L441.84 98.53 L441.34 100.45 L440.84 104.98 L440.34 103.96 L439.84 112.9 L439.34 113.2 L438.84 102.12 L438.34 97.77 L437.85 100.19 L437.35 101.18 L436.85 97.3 L436.35 95.46 L435.85 96.9 L435.35 96.57 L434.85 95.94 L434.35 96.4 L433.85 97.53 L433.35 96.41 L432.85 95.45 L432.35 94.56 L431.85 96.97 L431.35 98.78 L430.85 96.73 L430.35 94.06 L429.85 95.4 L429.35 95.15 L428.85 96.41 L428.35 99.97 L427.85 98 L427.35 95.11 L426.85 98.3 L426.35 97.98 L425.85 94.3 L425.35 95.72 L424.85 96.8 L424.35 97.78 L423.85 99.65 L423.35 100.4 L422.85 100.7 L422.35 99.43 L421.85 93.89 L421.35 93.36 L420.85 98.74 L420.35 97.46 L419.85 97 L419.35 97.32 L418.86 94.96 L418.36 97.93 L417.86 99.41 L417.36 99.06 L416.86 103.71 L416.36 106.85 L415.86 101.22 L415.36 101.91 L414.86 99.66 L414.36 105.12 L413.86 110.3 L413.36 110.6 L412.86 104.03 L412.36 99.07 L411.86 97.32 L411.36 97.25 L410.86 97.2 L410.36 97.46 L409.86 97.8 L409.36 100.16 L408.86 97.47 L408.36 100.25 L407.86 100.26 L407.36 99.05 L406.86 98.01 L406.36 97.97 L405.86 103.81 L405.36 100.34 L404.86 99.6 L404.36 102.5 L403.86 102.8 L403.36 98.96 L402.86 99.3 L402.36 99.26 L401.86 98.12 L401.36 101.48 L400.86 102.74 L400.37 107.4 L399.87 107.7 L399.37 100.82 L398.87 96.44 L398.37 97.98 L397.87 96.24 L397.37 96.69 L396.87 99.88 L396.37 98.7 L395.87 97.97 L395.37 97.12 L394.87 96.89 L394.37 97.44 L393.87 96.65 L393.37 96.57 L392.87 97.97 L392.37 98.88 L391.87 100.24 L391.37 101.4 L390.87 99.15 L390.37 97.5 L389.87 96.48 L389.37 100.33 L388.87 96.73 L388.37 99.26 L387.87 100.19 L387.37 97.17 L386.87 97.78 L386.37 95.92 L385.87 96.67 L385.37 99.46 L384.87 100.19 L384.37 98.84 L383.87 99.73 L383.37 98.95 L382.87 101.22 L382.37 106.2 L381.88 106.5 L381.38 100.16 L380.88 96.38 L380.38 96.31 L379.88 94.02 L379.38 96.46 L378.88 97.32 L378.38 97.97 L377.88 96.28 L377.38 96.62 L376.88 96.85 L376.38 95.73 L375.88 95.94 L375.38 95.64 L374.88 96.15 L374.38 95.27 L373.88 96.7 L373.38 100.12 L372.88 98.69 L372.38 95.54 L371.88 96.46 L371.38 96.51 L370.88 98.22 L370.38 98.72 L369.88 97.23 L369.38 96.5 L368.88 97.12 L368.38 99.36 L367.88 101.8 L367.38 102.1 L366.88 98.08 L366.38 96.49 L365.88 95.5 L365.38 97.3 L364.88 99.19 L364.38 99.01 L363.88 98.7 L363.39 98.36 L362.89 105.98 L362.39 111.3 L361.89 111.6 L361.39 104.85 L360.89 97.94 L360.39 98.8 L359.89 96.89 L359.39 96.18 L358.89 97.48 L358.39 99.05 L357.89 99.48 L357.39 98.86 L356.89 97.13 L356.39 96.8 L355.89 98.75 L355.39 102.84 L354.89 103.96 L354.39 103.05 L353.89 104.16 L353.39 101.76 L352.89 97.63 L352.39 98.03 L351.89 97.17 L351.39 96.65 L350.89 96.91 L350.39 97.46 L349.89 97.19 L349.39 96.06 L348.89 96.2 L348.39 98.03 L347.89 98.41 L347.39 96.34 L346.89 95.33 L346.39 95 L345.89 94.83 L345.39 96.14 L344.9 96.61 L344.4 100.61 L343.9 98.87 L343.4 99.34 L342.9 95.64 L342.4 99.41 L341.9 98.23 L341.4 100.52 L340.9 100.91 L340.4 99.5 L339.9 98.11 L339.4 101.14 L338.9 101.1 L338.4 101.4 L337.9 98.6 L337.4 99.36 L336.9 99.79 L336.4 98.51 L335.9 95.29Z" fill="#000" stroke="none" />
<path d="M335.9 124.55 L336.4 127.26 L336.9 126.78 L337.4 126.21 L337.9 130.36 L338.4 130.45 L338.9 129.19 L339.4 128.16 L339.9 129.24 L340.4 130.03 L340.91 131.09 L341.41 131.26 L341.91 132.43 L342.41 123.43 L342.91 126.8 L343.41 130.88 L343.91 131.62 L344.41 133.37 L344.91 132.17 L345.41 130.72 L345.91 128.75 L346.41 129.91 L346.91 131.73 L347.41 128.66 L347.91 128.94 L348.41 130.35 L348.91 130.6 L349.41 128.62 L349.92 130.81 L350.42 128.26 L350.92 129.39 L351.42 133.23 L351.92 129.94 L352.42 132.79 L352.92 130.07 L353.42 128.1 L353.92 126.32 L354.42 129.51 L354.92 124.33 L355.42 126.19 L355.92 129.42 L356.42 126.54 L356.92 126.54 L357.42 124.4 L357.92 130.96 L358.42 131.14 L358.92 131.23 L359.43 130.9 L359.93 132.27 L360.43 125.16 L360.93 122.66 L361.43 128.26 L361.93 129.94 L362.43 129.2 L362.93 126.53 L363.43 126.79 L363.93 127.72 L364.43 129.27 L364.93 131.35 L365.43 130.57 L365.93 130.06 L366.43 131.6 L366.93 133.14 L367.43 131.76 L367.93 131.69 L368.44 131.93 L368.94 130.68 L369.44 130.15 L369.94 129.84 L370.44 129.19 L370.94 131.51 L371.44 133.99 L371.94 133.49 L372.44 133.13 L372.94 133.67 L373.44 131.57 L373.94 131.39 L374.44 131.87 L374.94 131.45 L375.44 127.62 L375.94 127.43 L376.44 131.68 L376.94 132.38 L377.44 131.51 L377.95 130.61 L378.45 131.68 L378.95 131.74 L379.45 128.34 L379.95 131.92 L380.45 130.69 L380.95 133.69 L381.45 133.69 L381.95 132.31 L382.45 131.17 L382.95 131.43 L383.45 123.5 L383.95 128.39 L384.45 130.84 L384.95 132.03 L385.45 134.44 L385.95 134.29 L386.45 133.72 L386.96 134.5 L387.46 134.46 L387.96 133.98 L388.46 133.85 L388.96 131.11 L389.46 133.29 L389.96 132.42 L390.46 133.06 L390.96 133.57 L391.46 133.36 L391.96 132.99 L392.46 124.52 L392.96 124.29 L393.46 130.75 L393.96 130.39 L394.46 131.59 L394.96 126.68 L395.46 126.42 L395.96 132.5 L396.47 131.22 L396.97 131.28 L397.47 130.68 L397.97 132.36 L398.47 132.05 L398.97 132.48 L399.47 132.72 L399.97 128.61 L400.47 128.94 L400.97 128.89 L401.47 122.72 L401.97 123.42 L402.47 130.15 L402.97 130.63 L403.47 131.21 L403.97 131.09 L404.47 131.75 L404.97 130.45 L405.48 131.66 L405.98 131.08 L406.48 129.89 L406.98 127.86 L407.48 131.49 L407.98 125.43 L408.48 124.87 L408.98 129.12 L409.48 129.2 L409.98 130.11 L410.48 130.22 L410.98 126.67 L411.48 131.43 L411.98 131.92 L412.48 132.67 L412.98 130.95 L413.48 123.63 L413.98 125.02 L414.48 127.33 L414.99 132.31 L415.49 132.32 L415.99 133.12 L416.49 132.6 L416.99 132.62 L417.49 130.86 L417.99 131.64 L418.49 132.03 L418.99 131.01 L419.49 132.05 L419.99 130.05 L420.49 129.43 L420.99 131.49 L421.49 131.43 L421.99 131.26 L422.49 131.56 L422.99 132.79 L423.49 132.36 L424 130.46 L424.5 131.28 L425 132.26 L425.5 131.42 L426 129.09 L426.5 132.35 L427 132.11 L427.5 132.36 L428 131.48 L428.5 131.33 L429 133.28 L429.5 133.96 L430 134.2 L430.5 130.01 L431 133.3 L431.5 133.46 L432 122.92 L432.5 127.39 L433 130.49 L433.51 134.17 L434.01 131.61 L434.51 131.6 L435.01 133.57 L435.51 132.08 L436.01 131.67 L436.51 131.1 L437.01 131.62 L437.51 129.42 L438.01 129.78 L438.51 133.41 L439.01 132.03 L439.51 131.78 L440.01 132.01 L440.51 130.49 L441.01 130.34 L441.51 130.77 L442.01 129.17 L442.52 129.03 L443.02 129.8 L443.52 131.44 L444.02 131.32 L444.52 130.56 L445.02 132.42 L445.52 124.72 L446.02 126.07 L446.52 125.22 L447.02 127.3 L447.52 130.66 L448.02 131.41 L448.52 132.57 L449.02 130.97 L449.52 131.46 L450.02 138.68 L450.52 135.47 L451.02 133.14 L451.52 124.94 L452.03 133.62 L452.53 128.55 L453.03 128.09 L453.53 133.81 L454.03 132.52 L454.53 132.19 L455.03 134.14 L455.53 132.6 L456.03 133.09 L456.53 131.44 L457.03 132.69 L457.53 132.71 L458.03 133.07 L458.53 132.69 L459.03 133.2 L459.53 132.34 L460.03 133.51 L460.53 131.32 L461.04 129.94 L461.54 120.22 L462.04 126.52 L462.54 131.54 L463.04 134.37 L463.54 135.71 L464.04 133.55 L464.54 127.96 L465.04 126.63 L465.54 130.3 L466.04 128.94 L466.54 128.86 L467.04 130.79 L467.54 130.93 L468.04 130.83 L468.54 130.88 L469.04 130.93 L469.54 130.95 L470.04 124.87 L470.55 128.5 L471.05 128.29 L471.55 125.43 L472.05 126.14 L472.55 124.95 L473.05 125.74 L473.55 128.73 L474.05 129.11 L474.55 130.36 L475.05 130.69 L475.55 128.42 L476.05 125.18 L476.55 123.4 L477.05 125.74 L477.55 129.76 L478.05 130.96 L478.55 131.23 L479.05 132.07 L479.56 131.64 L480.06 130.56 L480.56 129.19 L481.06 130.61 L481.56 131.54 L482.06 129.83 L482.56 130 L483.06 130.91 L483.56 131.61 L484.06 128.15 L484.56 129.74 L485.06 130.23 L485.56 129.01 L486.06 129.19 L486.56 132.57 L487.06 131.07 L487.56 126.72 L488.06 126.84 L488.56 133.55 L489.07 131.78 L489.57 131.99 L490.07 130.74 L490.57 128.57 L491.07 125.87 L491.57 131.36 L492.07 130.23 L492.57 131.51 L493.07 130.04 L493.57 130.03 L494.07 127.31 L494.57 131.92 L495.07 132.45 L495.57 132.31 L496.07 130.78 L496.57 131.39 L497.07 127.3 L497.57 126.32 L498.08 128.9 L498.58 130.9 L499.08 130.48 L499.58 129.54 L500.08 129.36 L500.58 129.16 L501.08 128.95 L501.58 129.52 L502.08 128.38 L502.58 129.47 L503.08 131.83 L503.58 126.57 L504.08 128.32 L504.58 127.28 L505.08 128.79 L505.58 129.94 L506.08 131.58 L506.58 131.12 L507.08 131.5 L507.59 132.11 L508.09 130.14 L508.59 128.75 L509.09 129.94 L509.59 131.52 L510.09 129.83 L510.59 131.19 L511.09 133.66 L511.59 132.13 L512.09 134.03 L512.59 133.26 L513.09 130.52 L513.59 132.33 L514.09 129.02 L514.59 129.43 L515.09 131.92 L515.59 127.52 L516.09 126.66 L516.6 128.53 L517.1 122.03 L517.6 123.22 L518.1 130.85 L518.6 130.94 L519.1 130.24 L519.6 129.8 L520.1 129.43 L520.6 128.63 L521.1 127.02 L521.1 141.47 L520.6 140.96 L520.1 141.55 L519.6 142.33 L519.1 143.28 L518.6 147.3 L518.1 145.79 L517.6 143.66 L517.1 143.56 L516.6 142.18 L516.09 145.09 L515.59 145.2 L515.09 143.66 L514.59 143.42 L514.09 146.39 L513.59 149.29 L513.09 150.85 L512.59 148.5 L512.09 146.28 L511.59 145.6 L511.09 144.9 L510.59 143.78 L510.09 143.45 L509.59 143.98 L509.09 144.31 L508.59 143.9 L508.09 143.9 L507.59 144.05 L507.08 144.79 L506.58 142.06 L506.08 143.06 L505.58 141.57 L505.08 141.82 L504.58 143.56 L504.08 142.99 L503.58 141.53 L503.08 142.4 L502.58 144.66 L502.08 142.28 L501.58 141.57 L501.08 144.88 L500.58 144.32 L500.08 142.27 L499.58 142.77 L499.08 142.4 L498.58 146.81 L498.08 144.18 L497.57 143.71 L497.07 145.18 L496.57 145.53 L496.07 145.37 L495.57 145.81 L495.07 149.68 L494.57 145.7 L494.07 144.64 L493.57 144.39 L493.07 144.77 L492.57 142.74 L492.07 141.14 L491.57 141.46 L491.07 142.34 L490.57 144.14 L490.07 145.87 L489.57 146.59 L489.07 147.09 L488.56 143.11 L488.06 143.08 L487.56 143.16 L487.06 143.37 L486.56 143.77 L486.06 142.48 L485.56 142.29 L485.06 146.02 L484.56 145.5 L484.06 140.97 L483.56 146.08 L483.06 147.16 L482.56 144.38 L482.06 144 L481.56 143.65 L481.06 143.55 L480.56 145.32 L480.06 144.39 L479.56 143.35 L479.05 141.66 L478.55 141.6 L478.05 143.18 L477.55 143.08 L477.05 141.39 L476.55 140.82 L476.05 140.63 L475.55 140.84 L475.05 141.66 L474.55 145.61 L474.05 145.66 L473.55 144.91 L473.05 141.65 L472.55 142.1 L472.05 141.78 L471.55 140.92 L471.05 141.04 L470.55 142.19 L470.04 143.05 L469.54 143.54 L469.04 145.34 L468.54 144.81 L468.04 143.13 L467.54 146.1 L467.04 147.8 L466.54 146.28 L466.04 144.82 L465.54 144.2 L465.04 145.69 L464.54 147.55 L464.04 150.06 L463.54 157.9 L463.04 158.2 L462.54 148.44 L462.04 143.12 L461.54 144.59 L461.04 146.84 L460.53 147.23 L460.03 144.79 L459.53 145.09 L459.03 146.96 L458.53 146.73 L458.03 143.32 L457.53 144.62 L457.03 147.47 L456.53 147.37 L456.03 148.5 L455.53 144.03 L455.03 144.29 L454.53 145.4 L454.03 146.25 L453.53 147.05 L453.03 146.64 L452.53 145.91 L452.03 147.39 L451.52 150.88 L451.02 152.4 L450.52 161 L450.02 161.3 L449.52 150.28 L449.02 142.99 L448.52 143.2 L448.02 142.26 L447.52 142.51 L447.02 142.29 L446.52 142.45 L446.02 145.47 L445.52 143.11 L445.02 142.62 L444.52 143.85 L444.02 144.71 L443.52 142.28 L443.02 142.2 L442.52 143.95 L442.01 144.47 L441.51 143.29 L441.01 142.33 L440.51 142.5 L440.01 143.88 L439.51 144.73 L439.01 143.65 L438.51 143.44 L438.01 146.5 L437.51 144.36 L437.01 143.7 L436.51 143.39 L436.01 142.68 L435.51 142.49 L435.01 142.88 L434.51 149.35 L434.01 147.59 L433.51 144.26 L433 143.7 L432.5 144.29 L432 146.64 L431.5 146.34 L431 144.57 L430.5 144.14 L430 143.61 L429.5 144.8 L429 146.04 L428.5 148.16 L428 148.99 L427.5 146.37 L427 145.43 L426.5 146.57 L426 145.51 L425.5 145.05 L425 145.37 L424.5 145.37 L424 143.96 L423.49 143.52 L422.99 142.51 L422.49 146.02 L421.99 149.55 L421.49 145.72 L420.99 145.7 L420.49 146.7 L419.99 147 L419.49 145.44 L418.99 142 L418.49 142.87 L417.99 143.33 L417.49 144.92 L416.99 144.68 L416.49 145.19 L415.99 144.29 L415.49 142.86 L414.99 142.86 L414.48 144.51 L413.98 144.74 L413.48 143.28 L412.98 144.62 L412.48 145.89 L411.98 147.5 L411.48 144.81 L410.98 144.15 L410.48 144.17 L409.98 142.81 L409.48 147.49 L408.98 148.82 L408.48 145.86 L407.98 143.03 L407.48 141.78 L406.98 143.66 L406.48 142.8 L405.98 146.09 L405.48 143.41 L404.97 143.43 L404.47 141.66 L403.97 146.54 L403.47 147.29 L402.97 142.81 L402.47 142.19 L401.97 144.61 L401.47 145.94 L400.97 142.15 L400.47 143.07 L399.97 145.27 L399.47 144.95 L398.97 143.76 L398.47 147.32 L397.97 150.2 L397.47 150.5 L396.97 146.68 L396.47 144.23 L395.96 143.61 L395.46 143.7 L394.96 141.74 L394.46 141.86 L393.96 141.21 L393.46 143.3 L392.96 142.52 L392.46 143.01 L391.96 142.8 L391.46 146.31 L390.96 143.34 L390.46 144.35 L389.96 144.14 L389.46 142.87 L388.96 144.78 L388.46 145.14 L387.96 144.64 L387.46 146.29 L386.96 147.34 L386.45 144.72 L385.95 146.86 L385.45 146.38 L384.95 144.98 L384.45 146.99 L383.95 147.51 L383.45 145.87 L382.95 143.93 L382.45 147.18 L381.95 148.06 L381.45 145.36 L380.95 143.68 L380.45 148.45 L379.95 146.01 L379.45 144.9 L378.95 143.42 L378.45 147.17 L377.95 147.57 L377.44 142.61 L376.94 143.83 L376.44 145.57 L375.94 145.34 L375.44 143.47 L374.94 144.5 L374.44 143.82 L373.94 146.59 L373.44 146.32 L372.94 145.29 L372.44 147.98 L371.94 151.53 L371.44 147.79 L370.94 146.45 L370.44 145.61 L369.94 147.58 L369.44 147.4 L368.94 149.16 L368.44 148.2 L367.93 148.02 L367.43 144.18 L366.93 145.49 L366.43 148.29 L365.93 148.72 L365.43 150.76 L364.93 150.05 L364.43 145.65 L363.93 146.04 L363.43 148.4 L362.93 149.04 L362.43 143.68 L361.93 144.02 L361.43 143.44 L360.93 145.42 L360.43 146.7 L359.93 147 L359.43 145.11 L358.92 142.79 L358.42 144.97 L357.92 144.71 L357.42 141.78 L356.92 142.47 L356.42 144.7 L355.92 140.83 L355.42 142.18 L354.92 145.65 L354.42 149.98 L353.92 147.87 L353.42 144.47 L352.92 143.98 L352.42 144.89 L351.92 146.16 L351.42 144.42 L350.92 144.25 L350.42 145.74 L349.92 149.07 L349.41 148.4 L348.91 148.05 L348.41 145.73 L347.91 146.34 L347.41 143.04 L346.91 145.85 L346.41 147.55 L345.91 145.36 L345.41 144.1 L344.91 146.53 L344.41 148 L343.91 144.32 L343.41 143.19 L342.91 143.91 L342.41 143.73 L341.91 142.06 L341.41 144.49 L340.91 145.74 L340.4 145 L339.9 142.16 L339.4 146.29 L338.9 147.41 L338.4 141.67 L337.9 143.16 L337.4 142.38 L336.9 145.08 L336.4 146.33 L335.9 144.52Z" fill="#000" stroke="none" />
<line x1="464.7" y1="166.3" x2="526" y2="166.3" stroke="#000" stroke-width="1.2" />
<line x1="525.4" y1="147.2" x2="525.4" y2="166.9" stroke="#000" stroke-width="1.2" />
<text x="497.5" y="175.6" font-size="8.5" text-anchor="middle" font-weight="normal" fill="#000" >200 ms</text>
<text x="535.7" y="155" font-size="8.3" text-anchor="middle" font-weight="normal" fill="#000" transform="rotate(-90 535.7 155)" >20 pA</text>
<text x="540.4" y="15.6" font-size="14.3" text-anchor="start" font-weight="bold" fill="#000" >c</text>
<line x1="585.3" y1="24.44" x2="585.3" y2="158.6" stroke="#000" stroke-width="1.3" />
<line x1="580.6" y1="158" x2="585.3" y2="158" stroke="#000" stroke-width="1.3" />
<text x="578.6" y="161.6" font-size="10" text-anchor="end" font-weight="normal" fill="#000" >0</text>
<line x1="580.6" y1="141.38" x2="585.3" y2="141.38" stroke="#000" stroke-width="1.3" />
<text x="578.6" y="144.98" font-size="10" text-anchor="end" font-weight="normal" fill="#000" >2</text>
<line x1="580.6" y1="124.76" x2="585.3" y2="124.76" stroke="#000" stroke-width="1.3" />
<text x="578.6" y="128.36" font-size="10" text-anchor="end" font-weight="normal" fill="#000" >4</text>
<line x1="580.6" y1="108.14" x2="585.3" y2="108.14" stroke="#000" stroke-width="1.3" />
<text x="578.6" y="111.74" font-size="10" text-anchor="end" font-weight="normal" fill="#000" >6</text>
<line x1="580.6" y1="91.52" x2="585.3" y2="91.52" stroke="#000" stroke-width="1.3" />
<text x="578.6" y="95.12" font-size="10" text-anchor="end" font-weight="normal" fill="#000" >8</text>
<line x1="580.6" y1="74.9" x2="585.3" y2="74.9" stroke="#000" stroke-width="1.3" />
<text x="578.6" y="78.5" font-size="10" text-anchor="end" font-weight="normal" fill="#000" >10</text>
<line x1="580.6" y1="58.28" x2="585.3" y2="58.28" stroke="#000" stroke-width="1.3" />
<text x="578.6" y="61.88" font-size="10" text-anchor="end" font-weight="normal" fill="#000" >12</text>
<line x1="580.6" y1="41.66" x2="585.3" y2="41.66" stroke="#000" stroke-width="1.3" />
<text x="578.6" y="45.26" font-size="10" text-anchor="end" font-weight="normal" fill="#000" >14</text>
<line x1="580.6" y1="25.04" x2="585.3" y2="25.04" stroke="#000" stroke-width="1.3" />
<text x="578.6" y="28.64" font-size="10" text-anchor="end" font-weight="normal" fill="#000" >16</text>
<line x1="588.8" y1="162" x2="665.8" y2="162" stroke="#000" stroke-width="1.3" />
<text x="600.6" y="174.8" font-size="9.5" text-anchor="middle" font-weight="normal" fill="#000" >base</text>
<text x="628.9" y="174.8" font-size="9.5" text-anchor="middle" font-weight="normal" fill="#000" >suc</text>
<text x="657.4" y="174.8" font-size="9.5" text-anchor="middle" font-weight="normal" fill="#000" >wash</text>
<text x="560.2" y="91" font-size="10.7" text-anchor="middle" font-weight="normal" fill="#000" transform="rotate(-90 560.2 91)" >mEPSC frequency (Hz)</text>
<line x1="594.4" y1="22.2" x2="622.7" y2="22.2" stroke="#000" stroke-width="1.3" />
<text x="608.6" y="23.6" font-size="10.3" text-anchor="middle" font-weight="normal" fill="#000" >***</text>
<path d="M603.1 104.4 L631.8 49.72 L660.3 98.67" fill="none" stroke="#cccccc" stroke-width="0.9" stroke-linejoin="miter" />
<path d="M603.1 86.53 L631.8 70.5 L660.3 84.79" fill="none" stroke="#cccccc" stroke-width="0.9" stroke-linejoin="miter" />
<path d="M603.1 122.18 L631.8 78.14 L660.3 123.43" fill="none" stroke="#cccccc" stroke-width="0.9" stroke-linejoin="miter" />
<path d="M603.1 125.67 L631.8 90.77 L660.3 127.25" fill="none" stroke="#cccccc" stroke-width="0.9" stroke-linejoin="miter" />
<path d="M603.1 136.89 L631.8 98.83 L660.3 140.22" fill="none" stroke="#cccccc" stroke-width="0.9" stroke-linejoin="miter" />
<path d="M603.1 139.22 L631.8 116.2 L660.3 141.8" fill="none" stroke="#cccccc" stroke-width="0.9" stroke-linejoin="miter" />
<path d="M603.1 143.37 L631.8 118.78 L660.3 144.21" fill="none" stroke="#cccccc" stroke-width="0.9" stroke-linejoin="miter" />
<path d="M603.1 139.22 L631.8 120.52 L660.3 140.22" fill="none" stroke="#cccccc" stroke-width="0.9" stroke-linejoin="miter" />
<path d="M603.1 124.76 L631.8 98.83 L660.3 124.76" fill="none" stroke="#cccccc" stroke-width="0.9" stroke-linejoin="miter" />
<circle cx="603.1" cy="104.4" r="2.1" fill="#fff" stroke="#cccccc" stroke-width="0.8"/>
<circle cx="631.8" cy="49.72" r="2.1" fill="#fff" stroke="#cccccc" stroke-width="0.8"/>
<circle cx="660.3" cy="98.67" r="2.1" fill="#fff" stroke="#cccccc" stroke-width="0.8"/>
<circle cx="603.1" cy="86.53" r="2.1" fill="#fff" stroke="#cccccc" stroke-width="0.8"/>
<circle cx="631.8" cy="70.5" r="2.1" fill="#fff" stroke="#cccccc" stroke-width="0.8"/>
<circle cx="660.3" cy="84.79" r="2.1" fill="#fff" stroke="#cccccc" stroke-width="0.8"/>
<circle cx="603.1" cy="122.18" r="2.1" fill="#fff" stroke="#cccccc" stroke-width="0.8"/>
<circle cx="631.8" cy="78.14" r="2.1" fill="#fff" stroke="#cccccc" stroke-width="0.8"/>
<circle cx="660.3" cy="123.43" r="2.1" fill="#fff" stroke="#cccccc" stroke-width="0.8"/>
<circle cx="603.1" cy="125.67" r="2.1" fill="#fff" stroke="#cccccc" stroke-width="0.8"/>
<circle cx="631.8" cy="90.77" r="2.1" fill="#fff" stroke="#cccccc" stroke-width="0.8"/>
<circle cx="660.3" cy="127.25" r="2.1" fill="#fff" stroke="#cccccc" stroke-width="0.8"/>
<circle cx="603.1" cy="136.89" r="2.1" fill="#fff" stroke="#cccccc" stroke-width="0.8"/>
<circle cx="631.8" cy="98.83" r="2.1" fill="#fff" stroke="#cccccc" stroke-width="0.8"/>
<circle cx="660.3" cy="140.22" r="2.1" fill="#fff" stroke="#cccccc" stroke-width="0.8"/>
<circle cx="603.1" cy="139.22" r="2.1" fill="#fff" stroke="#cccccc" stroke-width="0.8"/>
<circle cx="631.8" cy="116.2" r="2.1" fill="#fff" stroke="#cccccc" stroke-width="0.8"/>
<circle cx="660.3" cy="141.8" r="2.1" fill="#fff" stroke="#cccccc" stroke-width="0.8"/>
<circle cx="603.1" cy="143.37" r="2.1" fill="#fff" stroke="#cccccc" stroke-width="0.8"/>
<circle cx="631.8" cy="118.78" r="2.1" fill="#fff" stroke="#cccccc" stroke-width="0.8"/>
<circle cx="660.3" cy="144.21" r="2.1" fill="#fff" stroke="#cccccc" stroke-width="0.8"/>
<circle cx="603.1" cy="139.22" r="2.1" fill="#fff" stroke="#cccccc" stroke-width="0.8"/>
<circle cx="631.8" cy="120.52" r="2.1" fill="#fff" stroke="#cccccc" stroke-width="0.8"/>
<circle cx="660.3" cy="140.22" r="2.1" fill="#fff" stroke="#cccccc" stroke-width="0.8"/>
<circle cx="603.1" cy="124.76" r="2.1" fill="#fff" stroke="#cccccc" stroke-width="0.8"/>
<circle cx="631.8" cy="98.83" r="2.1" fill="#fff" stroke="#cccccc" stroke-width="0.8"/>
<circle cx="660.3" cy="124.76" r="2.1" fill="#fff" stroke="#cccccc" stroke-width="0.8"/>
<path d="M603.1 132.07 L631.8 106.06 L660.3 130.74" fill="none" stroke="#f58c8c" stroke-width="1.15" stroke-linejoin="miter" />
<circle cx="603.1" cy="132.07" r="2.1" fill="#fff" stroke="#f06c6c" stroke-width="1.05"/>
<circle cx="631.8" cy="106.06" r="2.1" fill="#fff" stroke="#f06c6c" stroke-width="1.05"/>
<circle cx="660.3" cy="130.74" r="2.1" fill="#fff" stroke="#f06c6c" stroke-width="1.05"/>
<line x1="594.5" y1="119" x2="594.5" y2="131" stroke="#8a8a8a" stroke-width="1.4" />
<circle cx="594.5" cy="125" r="3" fill="#727272" stroke="none" stroke-width="0"/>
<line x1="623.1" y1="86.5" x2="623.1" y2="102.7" stroke="#8a8a8a" stroke-width="1.4" />
<circle cx="623.1" cy="94.7" r="3" fill="#727272" stroke="none" stroke-width="0"/>
<line x1="651.8" y1="119.1" x2="651.8" y2="132.3" stroke="#8a8a8a" stroke-width="1.4" />
<circle cx="651.8" cy="125.5" r="3" fill="#727272" stroke="none" stroke-width="0"/>
<text x="7" y="202.1" font-size="14.2" text-anchor="start" font-weight="bold" fill="#000" >d</text>
<text x="48.3" y="214.3" font-size="9.3" text-anchor="start" font-weight="normal" fill="#000" >D-AP5</text>
<line x1="47.2" y1="217.3" x2="152.3" y2="217.3" stroke="#000" stroke-width="2.4" />
<text x="22.6" y="276.7" font-size="9.3" text-anchor="start" font-weight="normal" fill="#8e8e8e" >sucrose</text>
<line x1="102.7" y1="253.1" x2="306.9" y2="253.1" stroke="#cfcfcf" stroke-width="1.1" stroke-dasharray="4.7 5.76"/>
<path d="M18.8 237.94 L19.3 241.47 L19.8 240.42 L20.3 240.42 L20.8 239 L21.3 238.14 L21.8 237.78 L22.3 238.71 L22.8 242.09 L23.3 239.17 L23.8 239.12 L24.3 236.2 L24.8 239.44 L25.3 230.36 L25.8 240.13 L26.3 240.49 L26.8 240.71 L27.3 243.02 L27.8 241.01 L28.3 241.85 L28.8 239.86 L29.3 242.25 L29.8 240.63 L30.3 240.5 L30.8 239.65 L31.3 239.11 L31.8 239.77 L32.3 240.22 L32.8 238.85 L33.3 239.19 L33.8 239.72 L34.3 234.68 L34.8 239.8 L35.3 238.09 L35.8 237.35 L36.3 238.44 L36.8 239.07 L37.3 237.3 L37.8 228.73 L38.3 228.49 L38.8 236.45 L39.3 234.84 L39.8 238.41 L40.3 236.81 L40.8 236.4 L41.3 236.98 L41.8 236.47 L42.3 235.32 L42.8 236.69 L43.3 233.81 L43.8 238.3 L44.3 238.71 L44.8 237.5 L45.3 239.97 L45.8 238.41 L46.3 238.13 L46.8 242.86 L47.3 237.36 L47.8 239.12 L48.3 229.43 L48.8 235.61 L49.3 235.16 L49.8 239.04 L50.3 239.63 L50.8 238.47 L51.3 240.74 L51.8 239.09 L52.3 238.52 L52.8 241.28 L53.3 231.5 L53.8 240.03 L54.3 238.89 L54.8 238.07 L55.3 233.54 L55.8 238.44 L56.3 240.93 L56.8 239.59 L57.3 238.03 L57.8 242.58 L58.3 238.97 L58.8 238.21 L59.3 240.13 L59.8 240.82 L60.3 240.97 L60.8 235 L61.3 240.24 L61.8 243.21 L62.3 243.1 L62.8 240.36 L63.3 235.84 L63.8 241.62 L64.3 241.54 L64.8 241.37 L65.3 243.69 L65.8 241.6 L66.3 244.03 L66.8 243.72 L67.3 243.98 L67.8 242.98 L68.3 242.62 L68.8 243.07 L69.3 243.41 L69.8 244.93 L70.3 239.44 L70.8 244.96 L71.3 243.84 L71.8 244.56 L72.3 244.63 L72.8 245.04 L73.3 245.78 L73.8 238.31 L74.3 243.97 L74.8 244.64 L75.3 242.04 L75.8 244.32 L76.3 244.62 L76.8 244.98 L77.3 245.92 L77.8 246.04 L78.3 245.53 L78.8 246.15 L79.3 246.44 L79.8 247.16 L80.3 246.75 L80.8 248.52 L81.3 241.45 L81.8 245.5 L82.3 247.2 L82.8 246.99 L83.3 247.09 L83.8 247.18 L84.3 248.19 L84.8 246 L85.3 248.54 L85.8 247.63 L86.3 250.23 L86.8 251.58 L87.3 250.69 L87.8 253.1 L88.3 251.05 L88.8 252.45 L89.3 252.68 L89.8 252.53 L90.3 251.98 L90.8 251.84 L91.3 251.96 L91.8 251.39 L92.3 253.49 L92.8 252.29 L93.3 251.15 L93.8 254.48 L94.3 253.79 L94.8 254.2 L95.3 254.04 L95.8 254.84 L96.3 254.91 L96.8 254.95 L97.3 252.7 L97.8 255.23 L98.3 254.63 L98.8 255.29 L99.3 254.01 L99.8 255.75 L100.3 254.08 L100.8 257.71 L101.3 256.27 L101.8 258.18 L102.3 256.65 L102.8 257.16 L103.3 257.89 L103.8 256.92 L104.3 256.85 L104.8 256.52 L105.3 258.44 L105.8 257.21 L106.3 257.57 L106.8 259.04 L107.3 257.91 L107.8 253.3 L108.3 259.13 L108.8 258.87 L109.3 259.25 L109.8 255.2 L110.3 259.46 L110.8 260.27 L111.3 258.98 L111.8 260.45 L112.3 259.8 L112.8 260.94 L113.3 256.39 L113.8 261.44 L114.3 260.74 L114.8 260.88 L115.3 259.84 L115.8 258.57 L116.3 260.71 L116.8 261 L117.3 260.63 L117.8 261.64 L118.3 261.18 L118.8 259.17 L119.3 259.75 L119.8 262.92 L120.3 262.69 L120.8 263.04 L121.3 262.72 L121.8 262.89 L122.3 263.01 L122.8 263.48 L123.3 263.69 L123.8 263.11 L124.3 263.39 L124.8 263.02 L125.3 263.05 L125.8 263.4 L126.3 264.38 L126.8 263.25 L127.3 263.37 L127.8 263.57 L128.3 264.08 L128.8 262.72 L129.3 263.57 L129.8 263.57 L130.3 265.19 L130.8 264.41 L131.3 261.66 L131.8 263.47 L132.3 267.57 L132.8 267.36 L133.3 266.27 L133.8 267.72 L134.3 267.25 L134.8 268.38 L135.3 268.89 L135.8 269.03 L136.3 269.01 L136.8 269.23 L137.3 270 L137.8 270.07 L138.3 270.4 L138.8 270.95 L139.3 270.96 L139.8 271.23 L140.3 271.75 L140.8 271.33 L141.3 271.72 L141.8 271.44 L142.3 271.56 L142.8 272.94 L143.3 269.94 L143.8 272.37 L144.3 273.14 L144.8 272.75 L145.3 273.75 L145.8 275.04 L146.3 274.68 L146.8 274.45 L147.3 274.5 L147.8 274.57 L148.3 274.6 L148.8 275.07 L149.3 276.13 L149.8 276.06 L150.3 276.17 L150.8 277.05 L151.3 278.5 L151.8 275.87 L152.3 277.05 L152.8 277.05 L153.3 277.16 L153.8 275.41 L154.3 277.76 L154.8 277.26 L155.3 275.15 L155.8 276.61 L156.3 277.43 L156.8 277.86 L157.3 276.19 L157.8 276.85 L158.3 275.18 L158.8 276.83 L159.3 277.67 L159.8 277.54 L160.3 278.06 L160.8 277.94 L161.3 277.5 L161.8 276.44 L162.3 280.12 L162.8 279.15 L163.3 278.9 L163.8 279.26 L164.3 279.05 L164.8 279.13 L165.3 279.55 L165.8 279.47 L166.3 279.37 L166.8 279.69 L167.3 279.23 L167.8 280.68 L168.3 282.42 L168.8 281.29 L169.3 281.28 L169.8 281.22 L170.3 281.05 L170.8 281.02 L171.3 280.52 L171.8 281.36 L172.3 281.32 L172.8 280.07 L173.3 279.6 L173.8 281.35 L174.3 281.63 L174.8 281.74 L175.3 281.91 L175.8 279.92 L176.3 281.26 L176.8 281.47 L177.3 280.87 L177.8 281.29 L178.3 280.96 L178.8 281.01 L179.3 282.44 L179.8 280.39 L180.3 279.22 L180.8 280.69 L181.3 282.45 L181.8 281.43 L182.3 282.46 L182.8 282.73 L183.3 280.32 L183.8 283.94 L184.3 282.5 L184.8 280.71 L185.3 279.85 L185.8 282.4 L186.3 283.23 L186.8 283.15 L187.3 282.21 L187.8 278.5 L188.3 280.55 L188.8 283.14 L189.3 283.38 L189.8 283.61 L190.3 283.73 L190.8 282.03 L191.3 285.06 L191.8 283.85 L192.3 285.48 L192.8 281.08 L193.3 284.39 L193.8 283.81 L194.3 282.6 L194.8 281.16 L195.3 282.89 L195.8 282.99 L196.3 282.94 L196.8 283.31 L197.3 282.88 L197.8 283.4 L198.3 283.31 L198.8 283.63 L199.3 284.01 L199.8 284.09 L200.3 283.66 L200.8 284.4 L201.3 283.53 L201.8 284.45 L202.3 284.55 L202.8 285.09 L203.3 284.58 L203.8 285.18 L204.3 285.35 L204.8 284.76 L205.3 284.68 L205.8 283.51 L206.3 284.9 L206.8 285.14 L207.3 285.41 L207.8 284.31 L208.3 281.98 L208.8 278.67 L209.3 284.13 L209.8 283.31 L210.3 283.8 L210.8 283.24 L211.3 283.3 L211.8 283.79 L212.3 284.06 L212.8 284.28 L213.3 285.92 L213.8 284.19 L214.3 284.89 L214.8 285.95 L215.3 285.31 L215.8 285.49 L216.3 285.76 L216.8 285.39 L217.3 282.05 L217.8 285.61 L218.3 286.19 L218.8 282.84 L219.3 285.22 L219.8 285.5 L220.3 284.95 L220.8 285.19 L221.3 285.04 L221.8 285.66 L222.3 285.35 L222.8 286.13 L223.3 285.92 L223.8 283.5 L224.3 287.46 L224.8 285.73 L225.3 286.72 L225.8 283.3 L226.3 286.75 L226.8 284.23 L227.3 285.17 L227.8 285.49 L228.3 285.18 L228.8 283.82 L229.3 285.68 L229.8 284.88 L230.3 285.62 L230.8 284.32 L231.3 286.03 L231.8 284.57 L232.3 284.89 L232.8 284.55 L233.3 281.88 L233.8 284.84 L234.3 284.65 L234.8 285.4 L235.3 285.88 L235.8 284.1 L236.3 285 L236.8 286.27 L237.3 284.66 L237.8 286.78 L238.3 285.94 L238.8 286.59 L239.3 287.08 L239.8 287.44 L240.3 286.66 L240.8 285.73 L241.3 286.88 L241.8 286.41 L242.3 287.43 L242.8 287.35 L243.3 286.45 L243.8 284.44 L244.3 287.05 L244.8 286.67 L245.3 287.71 L245.8 286.32 L246.3 286.6 L246.8 285.86 L247.3 281.47 L247.8 286.2 L248.3 286.15 L248.8 284.5 L249.3 286.26 L249.8 286.54 L250.3 286.8 L250.8 286.49 L251.3 287.34 L251.8 286.54 L252.3 286.99 L252.8 287.19 L253.3 286.75 L253.8 286.02 L254.3 283.54 L254.8 286.95 L255.3 287.5 L255.8 287.44 L256.3 286.1 L256.8 286.8 L257.3 286.49 L257.8 286.56 L258.3 286.52 L258.8 286.76 L259.3 287.19 L259.8 286.78 L260.3 287.24 L260.8 287.33 L261.3 289.01 L261.8 289.59 L262.3 289.33 L262.8 290 L263.3 289.48 L263.8 289.47 L264.3 289.51 L264.8 289.42 L265.3 290.77 L265.8 289.79 L266.3 289.42 L266.8 289.58 L267.3 290.3 L267.8 289.38 L268.3 288.05 L268.8 287.74 L269.3 288.7 L269.8 286.81 L270.3 283.32 L270.8 287.36 L271.3 283.86 L271.8 286.97 L272.3 286.6 L272.8 288.21 L273.3 286.56 L273.8 286.71 L274.3 286.79 L274.8 282.94 L275.3 288.64 L275.8 287.32 L276.3 287.48 L276.8 287.56 L277.3 286.82 L277.8 286.39 L278.3 287.44 L278.8 287.5 L279.3 286.58 L279.8 287.16 L280.3 286.22 L280.8 287.28 L281.3 283.75 L281.8 286.62 L282.3 288.51 L282.8 289.28 L283.3 288.65 L283.8 288.66 L284.3 290.27 L284.8 290.33 L285.3 288.85 L285.8 287.22 L286.3 288.64 L286.8 287.76 L287.3 287.12 L287.8 285.01 L288.3 286.19 L288.8 288.32 L289.3 288.3 L289.8 290.38 L290.3 289.64 L290.8 289.97 L291.3 288.69 L291.8 289.39 L292.3 290.82 L292.8 289.82 L293.3 289.89 L293.8 288.7 L294.3 284.51 L294.8 289.11 L295.3 289.92 L295.8 288.94 L296.3 288.28 L296.8 289.25 L297.3 289.08 L297.8 287.43 L298.3 287.31 L298.8 287.42 L299.3 285.17 L299.8 285.55 L300.3 286.74 L300.8 287.13 L301.3 287.12 L301.8 287.9 L302.3 287.23 L302.8 287.95 L303.3 286.64 L303.8 288.65 L304.3 288.44 L304.8 288.81 L305.3 289.05 L305.8 290.56 L306.3 289.72 L306.8 291.94 L307.3 290.03 L307.8 290.52 L308.3 291.46 L308.8 290.07 L309.3 289.34 L309.8 289.43 L310.3 289.73 L310.3 307.11 L309.8 308.63 L309.3 305.53 L308.8 307.02 L308.3 307.17 L307.8 303.81 L307.3 304.53 L306.8 304.92 L306.3 306.5 L305.8 303.69 L305.3 304.01 L304.8 303.51 L304.3 304.71 L303.8 303.02 L303.3 304.5 L302.8 304.47 L302.3 304.48 L301.8 304.19 L301.3 307.76 L300.8 304.73 L300.3 303.42 L299.8 304.15 L299.3 303.98 L298.8 303.73 L298.3 303.32 L297.8 304 L297.3 302.23 L296.8 302.63 L296.3 302.79 L295.8 302.19 L295.3 302.77 L294.8 302.68 L294.3 303.61 L293.8 301.88 L293.3 302.62 L292.8 302.98 L292.3 303.16 L291.8 303.1 L291.3 302.42 L290.8 303.1 L290.3 306.15 L289.8 305.42 L289.3 303.87 L288.8 302.71 L288.3 303.73 L287.8 304.36 L287.3 304.18 L286.8 302.47 L286.3 302.93 L285.8 303.81 L285.3 303.53 L284.8 302.25 L284.3 303.15 L283.8 303.19 L283.3 301.39 L282.8 301.91 L282.3 302.46 L281.8 302.71 L281.3 303.02 L280.8 299.89 L280.3 302.69 L279.8 302.31 L279.3 302.94 L278.8 302.85 L278.3 302.48 L277.8 302.75 L277.3 302.59 L276.8 304.09 L276.3 302.92 L275.8 302.84 L275.3 302.95 L274.8 302.43 L274.3 302.29 L273.8 302.84 L273.3 302.06 L272.8 301.77 L272.3 303.07 L271.8 302.95 L271.3 305.3 L270.8 303.96 L270.3 303.02 L269.8 304.01 L269.3 308.65 L268.8 303.99 L268.3 304.14 L267.8 302.92 L267.3 305.99 L266.8 303.73 L266.3 303.49 L265.8 303.37 L265.3 301.09 L264.8 301.98 L264.3 301.43 L263.8 302.81 L263.3 301.83 L262.8 302 L262.3 300.65 L261.8 299.75 L261.3 301.66 L260.8 300.59 L260.3 300.73 L259.8 301.92 L259.3 301.65 L258.8 301.2 L258.3 301.53 L257.8 301.2 L257.3 301.06 L256.8 302.48 L256.3 300.33 L255.8 300.38 L255.3 301.08 L254.8 301.97 L254.3 299.66 L253.8 303.91 L253.3 300.99 L252.8 299.77 L252.3 300.47 L251.8 300.86 L251.3 300.17 L250.8 299.08 L250.3 299.49 L249.8 300.4 L249.3 300.02 L248.8 300.26 L248.3 302.56 L247.8 299.18 L247.3 299.96 L246.8 303.83 L246.3 300.28 L245.8 299.81 L245.3 300.86 L244.8 300.78 L244.3 299.22 L243.8 299.9 L243.3 300.74 L242.8 302 L242.3 301.39 L241.8 300.5 L241.3 300.83 L240.8 303.55 L240.3 301.52 L239.8 300.89 L239.3 301.66 L238.8 300.56 L238.3 303.57 L237.8 300.18 L237.3 302.44 L236.8 299.82 L236.3 299.1 L235.8 298.45 L235.3 297.21 L234.8 298.17 L234.3 298.22 L233.8 298.82 L233.3 298.34 L232.8 297.34 L232.3 297.74 L231.8 297.57 L231.3 297.81 L230.8 298.51 L230.3 298.6 L229.8 299.96 L229.3 298.25 L228.8 298.94 L228.3 299.27 L227.8 297.81 L227.3 298.62 L226.8 299.17 L226.3 298.69 L225.8 300.26 L225.3 300.85 L224.8 298.8 L224.3 299.18 L223.8 300.26 L223.3 298.44 L222.8 299.23 L222.3 298.42 L221.8 297.45 L221.3 298.17 L220.8 297.33 L220.3 298.19 L219.8 297.96 L219.3 298.32 L218.8 298.1 L218.3 297.46 L217.8 298.66 L217.3 298.2 L216.8 298.23 L216.3 297.31 L215.8 298.34 L215.3 298.91 L214.8 297.97 L214.3 298.83 L213.8 298.53 L213.3 299 L212.8 299.02 L212.3 298.45 L211.8 300.23 L211.3 302.05 L210.8 299.42 L210.3 298.09 L209.8 298.4 L209.3 296.93 L208.8 298.27 L208.3 298.23 L207.8 297.61 L207.3 298.47 L206.8 297.55 L206.3 298.41 L205.8 296.24 L205.3 297.54 L204.8 296.45 L204.3 298.42 L203.8 296.25 L203.3 299.29 L202.8 297.31 L202.3 296.8 L201.8 298.31 L201.3 297.67 L200.8 297.73 L200.3 297.86 L199.8 297.19 L199.3 296.4 L198.8 296.4 L198.3 295.98 L197.8 295.87 L197.3 296.77 L196.8 296.59 L196.3 296.79 L195.8 296.5 L195.3 297.2 L194.8 297.33 L194.3 299.4 L193.8 297.81 L193.3 297.25 L192.8 298.6 L192.3 296.31 L191.8 299.38 L191.3 297.73 L190.8 299.63 L190.3 299.87 L189.8 296.2 L189.3 296.4 L188.8 297.57 L188.3 294.97 L187.8 296.68 L187.3 294.96 L186.8 295.64 L186.3 295.65 L185.8 295.71 L185.3 293.92 L184.8 294.06 L184.3 295.41 L183.8 294.05 L183.3 298.17 L182.8 294.57 L182.3 293.9 L181.8 293.92 L181.3 296.7 L180.8 294.16 L180.3 295.03 L179.8 295.26 L179.3 294.96 L178.8 294.03 L178.3 294.56 L177.8 295.01 L177.3 293.76 L176.8 292.91 L176.3 294.48 L175.8 293.66 L175.3 293.72 L174.8 292.82 L174.3 293.26 L173.8 292.27 L173.3 292.89 L172.8 291.55 L172.3 291.14 L171.8 290.22 L171.3 291.07 L170.8 291.27 L170.3 295 L169.8 290.75 L169.3 291.46 L168.8 290.37 L168.3 290.5 L167.8 291.33 L167.3 294.34 L166.8 292.56 L166.3 291.79 L165.8 291.14 L165.3 289.64 L164.8 289.75 L164.3 291.8 L163.8 288.34 L163.3 288.03 L162.8 286.78 L162.3 290.76 L161.8 288.98 L161.3 287.97 L160.8 288.6 L160.3 289.2 L159.8 292.5 L159.3 287.89 L158.8 287.94 L158.3 288.76 L157.8 287.67 L157.3 290.06 L156.8 287.79 L156.3 288.63 L155.8 291.48 L155.3 288.15 L154.8 288.33 L154.3 288.11 L153.8 287.9 L153.3 288.51 L152.8 288.02 L152.3 288.75 L151.8 288.33 L151.3 293.46 L150.8 289.03 L150.3 289.8 L149.8 288.16 L149.3 287.92 L148.8 289.4 L148.3 288.67 L147.8 288.2 L147.3 288.74 L146.8 290.25 L146.3 288.76 L145.8 288.7 L145.3 288.81 L144.8 288.58 L144.3 287.78 L143.8 287.51 L143.3 289.78 L142.8 286.96 L142.3 287.09 L141.8 286.9 L141.3 286.69 L140.8 284.64 L140.3 285.72 L139.8 285.35 L139.3 285.47 L138.8 285.09 L138.3 284.62 L137.8 285.29 L137.3 285.79 L136.8 285.16 L136.3 284.67 L135.8 285.54 L135.3 285.72 L134.8 285.56 L134.3 283.27 L133.8 285.59 L133.3 284.46 L132.8 284.78 L132.3 284.57 L131.8 284.21 L131.3 283.47 L130.8 283.23 L130.3 282.35 L129.8 282.8 L129.3 285.19 L128.8 281.47 L128.3 282.53 L127.8 282.87 L127.3 282.31 L126.8 282.29 L126.3 282.14 L125.8 283.27 L125.3 283.61 L124.8 285.92 L124.3 280.48 L123.8 280.54 L123.3 280.99 L122.8 280.82 L122.3 283.78 L121.8 280.63 L121.3 281.47 L120.8 281.99 L120.3 283.06 L119.8 283.54 L119.3 282.16 L118.8 281.39 L118.3 280.51 L117.8 281.85 L117.3 284.37 L116.8 281.26 L116.3 282.13 L115.8 280.28 L115.3 280.2 L114.8 282.3 L114.3 278.87 L113.8 280.58 L113.3 282.06 L112.8 278.15 L112.3 277.39 L111.8 279.51 L111.3 276.84 L110.8 276.99 L110.3 277.37 L109.8 277.09 L109.3 276.49 L108.8 276.52 L108.3 275.34 L107.8 276.48 L107.3 279.75 L106.8 275.24 L106.3 275.04 L105.8 275.89 L105.3 275.82 L104.8 274.05 L104.3 274.15 L103.8 273.58 L103.3 272.98 L102.8 273.35 L102.3 275.55 L101.8 272.93 L101.3 275.38 L100.8 273.72 L100.3 276.39 L99.8 273.19 L99.3 273.5 L98.8 272.23 L98.3 271.87 L97.8 272.25 L97.3 270.89 L96.8 270.32 L96.3 270.69 L95.8 268.54 L95.3 269.84 L94.8 270.44 L94.3 270.94 L93.8 274.11 L93.3 270.23 L92.8 269.26 L92.3 269.93 L91.8 269.48 L91.3 270.65 L90.8 267.89 L90.3 268.75 L89.8 270.27 L89.3 268.5 L88.8 267.74 L88.3 267.47 L87.8 267.66 L87.3 267.37 L86.8 267.61 L86.3 266.9 L85.8 270.22 L85.3 269.1 L84.8 267.31 L84.3 267.53 L83.8 267.08 L83.3 269.4 L82.8 268.6 L82.3 266.72 L81.8 267 L81.3 266.67 L80.8 266.24 L80.3 265.78 L79.8 265.62 L79.3 270.81 L78.8 266.48 L78.3 267.02 L77.8 266.35 L77.3 267.21 L76.8 266.78 L76.3 266.02 L75.8 266.63 L75.3 268.37 L74.8 267.35 L74.3 271.17 L73.8 270.11 L73.3 267.65 L72.8 266.65 L72.3 266.79 L71.8 266.32 L71.3 265.5 L70.8 267.17 L70.3 265.79 L69.8 266.23 L69.3 265.92 L68.8 265.9 L68.3 265.72 L67.8 265.86 L67.3 263.75 L66.8 263.78 L66.3 264.19 L65.8 265.95 L65.3 265.53 L64.8 266.79 L64.3 265.75 L63.8 265.5 L63.3 265.68 L62.8 267.18 L62.3 266.37 L61.8 265.84 L61.3 266.62 L60.8 267.99 L60.3 267.61 L59.8 267.7 L59.3 268.94 L58.8 268.62 L58.3 268.79 L57.8 268.1 L57.3 267.49 L56.8 267.77 L56.3 266.5 L55.8 266.09 L55.3 266.21 L54.8 264.63 L54.3 266.48 L53.8 264.95 L53.3 266.45 L52.8 266.48 L52.3 266.63 L51.8 265.42 L51.3 265.31 L50.8 267.15 L50.3 270.06 L49.8 267.16 L49.3 267.7 L48.8 267.78 L48.3 267.79 L47.8 267.51 L47.3 268.19 L46.8 267.99 L46.3 271.29 L45.8 267.22 L45.3 268.78 L44.8 267.78 L44.3 266.76 L43.8 267.72 L43.3 266.33 L42.8 264.07 L42.3 266.04 L41.8 264.3 L41.3 264.94 L40.8 266.52 L40.3 265.8 L39.8 264.91 L39.3 264.36 L38.8 266.37 L38.3 267.83 L37.8 267.53 L37.3 266.95 L36.8 266.16 L36.3 267.1 L35.8 266.29 L35.3 268.05 L34.8 267.12 L34.3 265.55 L33.8 266.68 L33.3 266.15 L32.8 265.84 L32.3 271.05 L31.8 267.22 L31.3 267.4 L30.8 267.26 L30.3 267.74 L29.8 269.49 L29.3 267.32 L28.8 267.48 L28.3 267.38 L27.8 266.67 L27.3 266.38 L26.8 265.35 L26.3 266.07 L25.8 265.59 L25.3 266.16 L24.8 268.41 L24.3 264.8 L23.8 265.58 L23.3 263.64 L22.8 264.57 L22.3 263.05 L21.8 265.58 L21.3 263.84 L20.8 266.73 L20.3 263.54 L19.8 265.76 L19.3 269.65 L18.8 265.56Z" fill="#000" stroke="none" />
<path d="M18.6 234.63 L19.1 234.62 L19.6 238 L20.1 239.61 L20.6 238.67 L21.1 238.25 L21.6 236.71 L22.1 238.57 L22.6 238.3 L23.1 239.15 L23.6 241.37 L24.1 238.49 L24.6 238.52 L25.1 240.63 L25.6 239.23 L26.1 228.89 L26.6 238.56 L27.1 239.07 L27.6 238.32 L28.1 239.98 L28.6 236.4 L29.1 240.19 L29.6 238.23 L30.1 238.21 L30.6 232.08 L31.1 237.24 L31.6 236.44 L32.1 236.89 L32.6 237.07 L33.1 232.7 L33.6 237.96 L34.1 239.33 L34.6 237.96 L35.1 237.68 L35.6 238.47 L36.1 238.28 L36.6 235.26 L37.1 241.58 L37.6 241.76 L38.1 241.73 L38.6 240.11 L39.1 241.01 L39.6 241.09 L40.1 241.84 L40.6 241.93 L41.1 242.18 L41.6 241.19 L42.1 242.15 L42.6 243.5 L43.1 242.47 L43.6 243.52 L44.1 242.93 L44.6 243.48 L45.1 243.22 L45.6 241.97 L46.1 241.75 L46.6 242.19 L47.1 242.64 L47.6 244.67 L48.1 242.77 L48.6 242.44 L49.1 242.55 L49.6 242.28 L50.1 242.82 L50.6 242.89 L51.1 245.75 L51.6 247.52 L52.1 244.38 L52.6 240.36 L53.1 244.12 L53.6 241.69 L54.1 246.4 L54.6 245.81 L55.1 245.46 L55.6 247.51 L56.1 245.92 L56.6 246.88 L57.1 247.89 L57.6 248.78 L58.1 247.33 L58.6 246.58 L59.1 247.94 L59.6 245.24 L60.1 248.99 L60.6 243.14 L61.1 247.83 L61.6 248.52 L62.1 247.9 L62.6 246.72 L63.1 244.41 L63.6 248.2 L64.1 248.88 L64.6 248.5 L65.1 248.98 L65.6 249.75 L66.1 249.43 L66.6 249.77 L67.1 250.64 L67.6 250.9 L68.1 250.09 L68.6 251.37 L69.1 252.25 L69.6 248.76 L70.1 251.75 L70.6 253.1 L71.1 252.2 L71.6 254.69 L72.1 252.33 L72.6 253.51 L73.1 253.3 L73.6 254.54 L74.1 253.75 L74.6 254.74 L75.1 255.1 L75.6 255.47 L76.1 256.39 L76.6 252.94 L77.1 257.62 L77.6 258.38 L78.1 259.55 L78.6 260.93 L79.1 260.04 L79.6 261.02 L80.1 261.63 L80.6 261.02 L81.1 261.86 L81.6 262.14 L82.1 260.9 L82.6 263.28 L83.1 264.6 L83.6 264.83 L84.1 264.21 L84.6 266.74 L85.1 265.83 L85.6 268.28 L86.1 267.43 L86.6 267.97 L87.1 269.38 L87.6 270.54 L88.1 270.71 L88.6 273.14 L89.1 271.78 L89.6 271.94 L90.1 271.25 L90.6 270.97 L91.1 270.6 L91.6 275.54 L92.1 276.49 L92.6 275.74 L93.1 277 L93.6 277.14 L94.1 278.03 L94.6 278.77 L95.1 280.51 L95.6 281.11 L96.1 284.03 L96.6 282.73 L97.1 285.06 L97.6 283.47 L98.1 286.27 L98.6 286.21 L99.1 287.7 L99.6 285.3 L100.1 285.32 L100.6 287.09 L101.1 287.68 L101.6 287.74 L102.1 287.33 L102.6 288.35 L103.1 289.06 L103.6 287.41 L104.1 288.79 L104.6 286.93 L105.1 287.62 L105.6 286.17 L106.1 287.93 L106.6 289.03 L107.1 289.14 L107.6 289.68 L108.1 288.78 L108.6 290 L109.1 287.56 L109.6 288.2 L110.1 287.09 L110.6 287.22 L111.1 288.36 L111.6 288 L112.1 289.62 L112.6 288.88 L113.1 290.58 L113.6 291.08 L114.1 288.1 L114.6 291.98 L115.1 292.38 L115.6 292.28 L116.1 292 L116.6 291.55 L117.1 292.79 L117.6 292.81 L118.1 292.75 L118.6 292.06 L119.1 293 L119.6 293.09 L120.1 294.4 L120.6 294.21 L121.1 294 L121.6 294.86 L122.1 294.92 L122.6 294.4 L123.1 294.45 L123.6 294.23 L124.1 294.89 L124.6 294.58 L125.1 295.78 L125.6 294.8 L126.1 297.29 L126.6 295.19 L127.1 296.36 L127.6 296.08 L128.1 295.33 L128.6 296.02 L129.1 296.26 L129.6 296.48 L130.1 296.51 L130.6 296.83 L131.1 299.98 L131.6 298.13 L132.1 297.05 L132.6 298.53 L133.1 298.8 L133.6 298.61 L134.1 293.63 L134.6 299.93 L135.1 299.45 L135.6 297.87 L136.1 298.41 L136.6 297.88 L137.1 298.51 L137.6 299.37 L138.1 298.65 L138.6 299.69 L139.1 299.56 L139.6 300.07 L140.1 295.27 L140.6 298.8 L141.1 299.69 L141.6 296.5 L142.1 299.09 L142.6 298.62 L143.1 298.44 L143.6 297.49 L144.1 296.16 L144.6 298.4 L145.1 297.35 L145.6 298.29 L146.1 296.77 L146.6 298.28 L147.1 297.27 L147.6 296.13 L148.1 296.14 L148.6 295.55 L149.1 295.92 L149.6 295.79 L150.1 295.24 L150.6 293.47 L151.1 294.26 L151.6 294.21 L152.1 295.3 L152.6 294.47 L153.1 294.63 L153.6 290.73 L154.1 294.57 L154.6 292.61 L155.1 292.13 L155.6 292.79 L156.1 291.92 L156.6 291.62 L157.1 289.77 L157.6 289.93 L158.1 290.28 L158.6 289.01 L159.1 289.66 L159.6 288.63 L160.1 289.9 L160.6 289.42 L161.1 289.13 L161.6 289.51 L162.1 286.98 L162.6 286.58 L163.1 288.11 L163.6 287.53 L164.1 290.02 L164.6 290.62 L165.1 288.66 L165.6 288.69 L166.1 289.73 L166.6 289.84 L167.1 284.44 L167.6 290.5 L168.1 289.94 L168.6 289.91 L169.1 290.8 L169.6 291.56 L170.1 291.24 L170.6 289.47 L171.1 293.26 L171.6 293.02 L172.1 291.41 L172.6 292.04 L173.1 294.06 L173.6 293.84 L174.1 294.36 L174.6 295.89 L175.1 295.35 L175.6 296.44 L176.1 296.6 L176.6 296.16 L177.1 296.38 L177.6 293.04 L178.1 295.86 L178.6 296.83 L179.1 297.72 L179.6 297.36 L180.1 298.33 L180.6 298.09 L181.1 297.62 L181.6 298.42 L182.1 298.82 L182.6 298.86 L183.1 300.1 L183.6 298.57 L184.1 298.2 L184.6 298.58 L185.1 297.1 L185.6 298.86 L186.1 298.14 L186.6 298.31 L187.1 298.76 L187.6 299.24 L188.1 297.91 L188.6 299.95 L189.1 301 L189.6 299.75 L190.1 300.49 L190.6 300.06 L191.1 300.96 L191.6 301.18 L192.1 301.15 L192.6 300.22 L193.1 301.95 L193.6 300.95 L194.1 300.59 L194.6 301.69 L195.1 299.27 L195.6 301.04 L196.1 299.81 L196.6 301.32 L197.1 301.79 L197.6 302.37 L198.1 301.51 L198.6 302.51 L199.1 302.25 L199.6 303.77 L200.1 301.72 L200.6 302.09 L201.1 302.06 L201.6 302.01 L202.1 302.33 L202.6 301.82 L203.1 302.92 L203.6 301.79 L204.1 302.41 L204.6 302.66 L205.1 302.39 L205.6 303.78 L206.1 303.08 L206.6 303.5 L207.1 300.36 L207.6 301.48 L208.1 304.19 L208.6 305.61 L209.1 303.95 L209.6 302.19 L210.1 305 L210.6 304.98 L211.1 303.61 L211.6 304.14 L212.1 303.36 L212.6 299.33 L213.1 303.69 L213.6 302.36 L214.1 304.15 L214.6 303.54 L215.1 303.86 L215.6 304.61 L216.1 304.08 L216.6 303.92 L217.1 305.1 L217.6 304.39 L218.1 304.95 L218.6 305.18 L219.1 305.77 L219.6 308.03 L220.1 306.29 L220.6 304.61 L221.1 306.62 L221.6 302.8 L222.1 307.18 L222.6 306.28 L223.1 306.01 L223.6 306.2 L224.1 305.59 L224.6 305.47 L225.1 305.37 L225.6 304.33 L226.1 306.73 L226.6 305.07 L227.1 305.08 L227.6 306.76 L228.1 305.09 L228.6 303.29 L229.1 305.6 L229.6 305.3 L230.1 306.66 L230.6 306.72 L231.1 306.45 L231.6 307 L232.1 307.72 L232.6 306.6 L233.1 306.28 L233.6 306.02 L234.1 306.54 L234.6 305.94 L235.1 305.53 L235.6 305.04 L236.1 305.9 L236.6 305.48 L237.1 305.46 L237.6 306.19 L238.1 305.81 L238.6 306.26 L239.1 306.9 L239.6 306.94 L240.1 306.43 L240.6 308.16 L241.1 308.79 L241.6 308.2 L242.1 308.36 L242.6 307.95 L243.1 309.76 L243.6 304.75 L244.1 308.68 L244.6 307.79 L245.1 308.1 L245.6 307.91 L246.1 309.04 L246.6 307.7 L247.1 308.89 L247.6 306.12 L248.1 309.29 L248.6 308.98 L249.1 308.98 L249.6 309.26 L250.1 309.31 L250.6 310.3 L251.1 309.69 L251.6 306.62 L252.1 310.06 L252.6 309.96 L253.1 309.4 L253.6 309 L254.1 310.88 L254.6 309.92 L255.1 305.8 L255.6 310.71 L256.1 310.16 L256.6 307.95 L257.1 309.18 L257.6 309.24 L258.1 309.96 L258.6 310.68 L259.1 310.08 L259.6 310.49 L260.1 310.09 L260.6 310.96 L261.1 308.42 L261.6 305.61 L262.1 310.83 L262.6 311.87 L263.1 310.97 L263.6 311.29 L264.1 312.02 L264.6 311.57 L265.1 311.58 L265.6 310.74 L266.1 312.22 L266.6 312.08 L267.1 311.53 L267.6 312.46 L268.1 311.17 L268.6 312.03 L269.1 313.69 L269.6 312.96 L270.1 313.02 L270.6 313.34 L271.1 314.44 L271.6 309.2 L272.1 314.06 L272.6 315.16 L273.1 312.39 L273.6 311.9 L274.1 313.53 L274.6 314.75 L275.1 313.45 L275.6 313.52 L276.1 314.08 L276.6 312.22 L277.1 312.87 L277.6 312.08 L278.1 311.68 L278.6 311.5 L279.1 311.11 L279.6 311.44 L280.1 311.04 L280.6 308.25 L281.1 312.49 L281.6 307.78 L282.1 313.7 L282.6 312.73 L283.1 313.27 L283.6 313.14 L284.1 313.41 L284.6 313.62 L285.1 313.63 L285.6 314.7 L286.1 314.12 L286.6 311.4 L287.1 311.81 L287.6 314.49 L288.1 314.8 L288.6 315.09 L289.1 315.65 L289.6 317.72 L290.1 314.81 L290.6 317.68 L291.1 316.29 L291.6 317.25 L292.1 315.89 L292.6 317.46 L293.1 317.16 L293.6 316.99 L294.1 316.16 L294.6 316.37 L295.1 316.03 L295.6 314.94 L296.1 314.57 L296.6 315.53 L297.1 312.55 L297.6 314.86 L298.1 314.88 L298.6 315.17 L299.1 314.83 L299.6 316.25 L300.1 316.17 L300.6 315.35 L301.1 315.65 L301.6 316.91 L302.1 317.48 L302.6 316.44 L303.1 317.51 L303.6 315.52 L304.1 316.99 L304.6 316.59 L305.1 316.32 L305.6 316.45 L306.1 316.39 L306.6 315.44 L307.1 317.13 L307.6 317.41 L308.1 315.45 L308.6 316.25 L309.1 317.45 L309.6 318.54 L310.1 317.24 L310.6 317.08 L310.6 331.49 L310.1 329.71 L309.6 328.31 L309.1 328.05 L308.6 328.76 L308.1 328.83 L307.6 329.69 L307.1 328.16 L306.6 327.61 L306.1 328.6 L305.6 329.11 L305.1 329.24 L304.6 331.61 L304.1 329.42 L303.6 330.07 L303.1 330.84 L302.6 330.12 L302.1 330.4 L301.6 331.42 L301.1 330.73 L300.6 330.53 L300.1 330.77 L299.6 330.37 L299.1 329.9 L298.6 329.49 L298.1 331.04 L297.6 331.43 L297.1 329.48 L296.6 330.53 L296.1 329.16 L295.6 330.65 L295.1 329.45 L294.6 328.49 L294.1 328.52 L293.6 327.8 L293.1 327.36 L292.6 327.74 L292.1 327.86 L291.6 327.44 L291.1 328.19 L290.6 326.97 L290.1 327.69 L289.6 327.83 L289.1 328.54 L288.6 328 L288.1 328.84 L287.6 328.7 L287.1 330.57 L286.6 328.41 L286.1 328.08 L285.6 329.94 L285.1 327.37 L284.6 328.5 L284.1 330.15 L283.6 331.97 L283.1 328.1 L282.6 327.42 L282.1 327.34 L281.6 326.97 L281.1 329.33 L280.6 331.38 L280.1 329.25 L279.6 330.25 L279.1 330.88 L278.6 328.87 L278.1 328.37 L277.6 333.87 L277.1 328.15 L276.6 328.24 L276.1 329.18 L275.6 333.5 L275.1 329.22 L274.6 328.99 L274.1 329.25 L273.6 328.68 L273.1 328.41 L272.6 328.26 L272.1 328.93 L271.6 332.62 L271.1 326.86 L270.6 327.22 L270.1 327.81 L269.6 327.85 L269.1 326.78 L268.6 330.49 L268.1 328.21 L267.6 326.74 L267.1 327.15 L266.6 328.42 L266.1 329.52 L265.6 327.61 L265.1 326.59 L264.6 327.25 L264.1 328.99 L263.6 326.6 L263.1 326.77 L262.6 325.02 L262.1 325.94 L261.6 325.43 L261.1 326.84 L260.6 327.09 L260.1 327.06 L259.6 326.54 L259.1 327.78 L258.6 329.16 L258.1 326.85 L257.6 327.86 L257.1 329.52 L256.6 326.25 L256.1 326.68 L255.6 325.32 L255.1 326.14 L254.6 325.27 L254.1 325.65 L253.6 326.46 L253.1 327.1 L252.6 326.3 L252.1 325.4 L251.6 327.08 L251.1 327.03 L250.6 328.33 L250.1 327.23 L249.6 326.86 L249.1 329.35 L248.6 326.36 L248.1 326.23 L247.6 326.88 L247.1 324.91 L246.6 326.05 L246.1 327.47 L245.6 325.3 L245.1 324.58 L244.6 325.31 L244.1 325.09 L243.6 325.19 L243.1 324.53 L242.6 325.09 L242.1 324.97 L241.6 324.06 L241.1 324.12 L240.6 324.79 L240.1 324.85 L239.6 323.92 L239.1 325.21 L238.6 324.23 L238.1 323.92 L237.6 323.82 L237.1 323.67 L236.6 323.6 L236.1 322.15 L235.6 323.15 L235.1 323.1 L234.6 324.76 L234.1 322.53 L233.6 322.81 L233.1 323.38 L232.6 321.81 L232.1 323.15 L231.6 322.18 L231.1 323.66 L230.6 323.7 L230.1 323.69 L229.6 323.31 L229.1 323.45 L228.6 322.79 L228.1 322.58 L227.6 322.81 L227.1 323.23 L226.6 323.02 L226.1 322.67 L225.6 322.22 L225.1 323.16 L224.6 323.2 L224.1 322.25 L223.6 323.4 L223.1 326.17 L222.6 324.69 L222.1 323.03 L221.6 324.5 L221.1 322.84 L220.6 322.68 L220.1 322.28 L219.6 323.43 L219.1 323.08 L218.6 323.27 L218.1 322.15 L217.6 323.11 L217.1 322.86 L216.6 321.52 L216.1 321.7 L215.6 320.82 L215.1 319.92 L214.6 319.92 L214.1 321.55 L213.6 321.22 L213.1 319.9 L212.6 320.47 L212.1 321.64 L211.6 319.83 L211.1 320.54 L210.6 321.17 L210.1 321.28 L209.6 319.94 L209.1 321.11 L208.6 320.32 L208.1 320.36 L207.6 319.58 L207.1 321.19 L206.6 320.39 L206.1 321.06 L205.6 319.84 L205.1 320.19 L204.6 319.72 L204.1 321 L203.6 322.36 L203.1 318.68 L202.6 319.4 L202.1 320.26 L201.6 325.76 L201.1 320.22 L200.6 320.67 L200.1 320.85 L199.6 320.5 L199.1 320.08 L198.6 318.39 L198.1 320.61 L197.6 320.03 L197.1 319.74 L196.6 320.34 L196.1 319.7 L195.6 320.15 L195.1 321.02 L194.6 319.32 L194.1 317.91 L193.6 319.16 L193.1 317.99 L192.6 319.51 L192.1 316.03 L191.6 316.88 L191.1 316.19 L190.6 315.69 L190.1 315.99 L189.6 316.14 L189.1 315.51 L188.6 315.52 L188.1 315.4 L187.6 315.8 L187.1 315.7 L186.6 315.27 L186.1 315.98 L185.6 319.48 L185.1 314.84 L184.6 316.27 L184.1 314.53 L183.6 314.69 L183.1 314.18 L182.6 313.19 L182.1 313.19 L181.6 313.32 L181.1 312.15 L180.6 312.92 L180.1 313.1 L179.6 311.54 L179.1 311.52 L178.6 312.57 L178.1 311.53 L177.6 310.99 L177.1 310.71 L176.6 310.07 L176.1 312.95 L175.6 309.17 L175.1 308.45 L174.6 313.88 L174.1 308.28 L173.6 308.24 L173.1 308.25 L172.6 306.58 L172.1 305.92 L171.6 310.43 L171.1 306.34 L170.6 305.99 L170.1 303.56 L169.6 300.73 L169.1 301.16 L168.6 301.33 L168.1 300.82 L167.6 299.4 L167.1 300.39 L166.6 298.92 L166.1 298.62 L165.6 299.53 L165.1 299.39 L164.6 299.03 L164.1 299.3 L163.6 301.16 L163.1 299.84 L162.6 299.65 L162.1 300.43 L161.6 300.76 L161.1 301.4 L160.6 299.99 L160.1 301.52 L159.6 302.72 L159.1 303.26 L158.6 303.95 L158.1 304.58 L157.6 305.6 L157.1 306.8 L156.6 308.03 L156.1 309.14 L155.6 312.46 L155.1 310.34 L154.6 311.15 L154.1 312.27 L153.6 312.23 L153.1 311.92 L152.6 312.91 L152.1 311.42 L151.6 313.73 L151.1 311.67 L150.6 311.01 L150.1 312.73 L149.6 313.15 L149.1 312.85 L148.6 312.73 L148.1 311.96 L147.6 312.67 L147.1 313.77 L146.6 314.38 L146.1 312.52 L145.6 312.14 L145.1 311.47 L144.6 311.42 L144.1 311.42 L143.6 311.55 L143.1 311.68 L142.6 312.04 L142.1 311.72 L141.6 313.78 L141.1 311.44 L140.6 311.4 L140.1 312.14 L139.6 312 L139.1 311.91 L138.6 312.24 L138.1 312.04 L137.6 311.94 L137.1 313 L136.6 311.57 L136.1 310.63 L135.6 310.69 L135.1 310.64 L134.6 310.74 L134.1 311.28 L133.6 310.85 L133.1 309.74 L132.6 310.65 L132.1 310.55 L131.6 313.94 L131.1 310.38 L130.6 310.29 L130.1 311.08 L129.6 311.1 L129.1 309.88 L128.6 311.01 L128.1 309.18 L127.6 308.85 L127.1 309.36 L126.6 308.6 L126.1 309.26 L125.6 308.88 L125.1 308.75 L124.6 312.55 L124.1 308.27 L123.6 310.16 L123.1 309.71 L122.6 309.03 L122.1 308.41 L121.6 307.51 L121.1 307.37 L120.6 309.02 L120.1 308.83 L119.6 308.83 L119.1 309.87 L118.6 308.11 L118.1 308.67 L117.6 308.6 L117.1 308.94 L116.6 308.63 L116.1 308.34 L115.6 312.49 L115.1 309.78 L114.6 310.29 L114.1 308.2 L113.6 309.16 L113.1 309.5 L112.6 308.66 L112.1 307.2 L111.6 313.51 L111.1 308.04 L110.6 307.02 L110.1 309.59 L109.6 307.07 L109.1 306.84 L108.6 306.05 L108.1 306.5 L107.6 305.7 L107.1 305.37 L106.6 305.82 L106.1 306.9 L105.6 305.93 L105.1 303.85 L104.6 305.97 L104.1 306.51 L103.6 307.33 L103.1 306.47 L102.6 310.27 L102.1 306.49 L101.6 305.57 L101.1 303.6 L100.6 304.28 L100.1 303.67 L99.6 302.99 L99.1 301.98 L98.6 302.47 L98.1 300.6 L97.6 299.22 L97.1 299.84 L96.6 298.19 L96.1 298.16 L95.6 298.23 L95.1 297.12 L94.6 295.41 L94.1 295.48 L93.6 295.3 L93.1 299.71 L92.6 294.86 L92.1 297.53 L91.6 293.58 L91.1 292.81 L90.6 292.07 L90.1 291.63 L89.6 290.74 L89.1 290.1 L88.6 290.22 L88.1 289.31 L87.6 289.61 L87.1 288.07 L86.6 287.97 L86.1 286.18 L85.6 283.35 L85.1 285.17 L84.6 285.31 L84.1 282.14 L83.6 281.35 L83.1 282.1 L82.6 280.67 L82.1 279.64 L81.6 278.4 L81.1 279.9 L80.6 279.56 L80.1 278.48 L79.6 277.76 L79.1 283.56 L78.6 278.42 L78.1 278.48 L77.6 278.06 L77.1 280.6 L76.6 277.8 L76.1 277.89 L75.6 277.77 L75.1 277.87 L74.6 277.46 L74.1 276.31 L73.6 276.81 L73.1 275.62 L72.6 275.85 L72.1 276.5 L71.6 275.65 L71.1 275.07 L70.6 274.81 L70.1 274.51 L69.6 274.28 L69.1 275.7 L68.6 276.72 L68.1 275.3 L67.6 274.36 L67.1 274.14 L66.6 273.85 L66.1 277.61 L65.6 273.43 L65.1 273.71 L64.6 273.22 L64.1 273.35 L63.6 274.09 L63.1 273.41 L62.6 273.27 L62.1 274.01 L61.6 272.94 L61.1 272.27 L60.6 273.55 L60.1 271.59 L59.6 271.23 L59.1 271.33 L58.6 271.62 L58.1 271.88 L57.6 271.17 L57.1 271.2 L56.6 271.37 L56.1 270.75 L55.6 270.69 L55.1 271.91 L54.6 270.68 L54.1 269.76 L53.6 270.33 L53.1 269.38 L52.6 271.6 L52.1 268.98 L51.6 268.83 L51.1 269.29 L50.6 270.17 L50.1 268.53 L49.6 267.51 L49.1 267.81 L48.6 272.78 L48.1 266.97 L47.6 267.08 L47.1 267.91 L46.6 267.38 L46.1 267.15 L45.6 265.29 L45.1 267.02 L44.6 266.61 L44.1 266.66 L43.6 266.2 L43.1 270.9 L42.6 266 L42.1 265.23 L41.6 264.59 L41.1 265.45 L40.6 264.33 L40.1 265.38 L39.6 263.88 L39.1 267.97 L38.6 265.19 L38.1 267.83 L37.6 263.92 L37.1 265.06 L36.6 268.16 L36.1 269.05 L35.6 265.56 L35.1 265.98 L34.6 265.27 L34.1 262.59 L33.6 269.46 L33.1 265.96 L32.6 267.23 L32.1 265.58 L31.6 265.31 L31.1 264.11 L30.6 264.77 L30.1 268.35 L29.6 266.38 L29.1 263.37 L28.6 264.25 L28.1 266.93 L27.6 264 L27.1 265.1 L26.6 263.96 L26.1 265.01 L25.6 266.26 L25.1 265.48 L24.6 265 L24.1 265.6 L23.6 264.68 L23.1 266.08 L22.6 266.82 L22.1 265.41 L21.6 265.44 L21.1 268.74 L20.6 263.81 L20.1 263.71 L19.6 262.8 L19.1 263.9 L18.6 262.73Z" fill="#8c8c8c" stroke="none" />
<line x1="323.4" y1="295.5" x2="323.4" y2="337.9" stroke="#000" stroke-width="1.2" />
<line x1="288.2" y1="337.3" x2="324" y2="337.3" stroke="#000" stroke-width="1.2" />
<text x="307.1" y="348.2" font-size="8.4" text-anchor="middle" font-weight="normal" fill="#000" >10 s</text>
<text x="334.6" y="315" font-size="8.3" text-anchor="middle" font-weight="normal" fill="#000" transform="rotate(-90 334.6 315)" >50 pA</text>
<text x="349.8" y="202" font-size="14.2" text-anchor="start" font-weight="bold" fill="#000" >e</text>
<line x1="406.6" y1="215.54" x2="406.6" y2="326.9" stroke="#000" stroke-width="1.3" />
<line x1="402" y1="326.3" x2="406.6" y2="326.3" stroke="#000" stroke-width="1.3" />
<text x="400.2" y="329.9" font-size="10" text-anchor="end" font-weight="normal" fill="#000" >0</text>
<line x1="402" y1="307.94" x2="406.6" y2="307.94" stroke="#000" stroke-width="1.3" />
<text x="400.2" y="311.54" font-size="10" text-anchor="end" font-weight="normal" fill="#000" >20</text>
<line x1="402" y1="289.58" x2="406.6" y2="289.58" stroke="#000" stroke-width="1.3" />
<text x="400.2" y="293.18" font-size="10" text-anchor="end" font-weight="normal" fill="#000" >40</text>
<line x1="402" y1="271.22" x2="406.6" y2="271.22" stroke="#000" stroke-width="1.3" />
<text x="400.2" y="274.82" font-size="10" text-anchor="end" font-weight="normal" fill="#000" >60</text>
<line x1="402" y1="252.86" x2="406.6" y2="252.86" stroke="#000" stroke-width="1.3" />
<text x="400.2" y="256.46" font-size="10" text-anchor="end" font-weight="normal" fill="#000" >80</text>
<line x1="402" y1="234.5" x2="406.6" y2="234.5" stroke="#000" stroke-width="1.3" />
<text x="400.2" y="238.1" font-size="10" text-anchor="end" font-weight="normal" fill="#000" >100</text>
<line x1="402" y1="216.14" x2="406.6" y2="216.14" stroke="#000" stroke-width="1.3" />
<text x="400.2" y="219.74" font-size="10" text-anchor="end" font-weight="normal" fill="#000" >120</text>
<line x1="410.5" y1="329.9" x2="455.8" y2="329.9" stroke="#000" stroke-width="1.3" />
<text x="427.5" y="339" font-size="10" text-anchor="middle" font-weight="normal" fill="#000" >-</text>
<text x="441" y="339" font-size="10" text-anchor="middle" font-weight="normal" fill="#000" >+</text>
<text x="436.5" y="348.4" font-size="9.5" text-anchor="middle" font-weight="normal" fill="#000" >sucrose</text>
<line x1="418.2" y1="210.4" x2="450.3" y2="210.4" stroke="#000" stroke-width="1.3" />
<text x="433.1" y="211.3" font-size="10.6" text-anchor="middle" font-weight="normal" fill="#000" >***</text>
<text x="376.3" y="270" font-size="10.8" text-anchor="middle" font-weight="normal" fill="#000" transform="rotate(-90 376.3 270)" >I<tspan font-size="7.0" dy="2.3">D-AP5</tspan><tspan dy="-2.3"> (pA)</tspan></text>
<path d="M425.5 250.29 L440.9 245.52" fill="none" stroke="#cccccc" stroke-width="0.9" stroke-linejoin="miter" />
<path d="M425.5 258.83 L440.9 251.48" fill="none" stroke="#cccccc" stroke-width="0.9" stroke-linejoin="miter" />
<path d="M425.5 263.23 L440.9 227.16" fill="none" stroke="#cccccc" stroke-width="0.9" stroke-linejoin="miter" />
<path d="M425.5 274.43 L440.9 264.34" fill="none" stroke="#cccccc" stroke-width="0.9" stroke-linejoin="miter" />
<path d="M425.5 283.7 L440.9 266.54" fill="none" stroke="#cccccc" stroke-width="0.9" stroke-linejoin="miter" />
<path d="M425.5 285.36 L440.9 264.24" fill="none" stroke="#cccccc" stroke-width="0.9" stroke-linejoin="miter" />
<path d="M425.5 290.04 L440.9 217.7" fill="none" stroke="#cccccc" stroke-width="0.9" stroke-linejoin="miter" />
<path d="M425.5 299.77 L440.9 285.36" fill="none" stroke="#cccccc" stroke-width="0.9" stroke-linejoin="miter" />
<path d="M425.5 305.19 L440.9 240.47" fill="none" stroke="#cccccc" stroke-width="0.9" stroke-linejoin="miter" />
<circle cx="425.5" cy="250.29" r="2.1" fill="#fff" stroke="#cccccc" stroke-width="0.8"/>
<circle cx="440.9" cy="245.52" r="2.1" fill="#fff" stroke="#cccccc" stroke-width="0.8"/>
<circle cx="425.5" cy="258.83" r="2.1" fill="#fff" stroke="#cccccc" stroke-width="0.8"/>
<circle cx="440.9" cy="251.48" r="2.1" fill="#fff" stroke="#cccccc" stroke-width="0.8"/>
<circle cx="425.5" cy="263.23" r="2.1" fill="#fff" stroke="#cccccc" stroke-width="0.8"/>
<circle cx="440.9" cy="227.16" r="2.1" fill="#fff" stroke="#cccccc" stroke-width="0.8"/>
<circle cx="425.5" cy="274.43" r="2.1" fill="#fff" stroke="#cccccc" stroke-width="0.8"/>
<circle cx="440.9" cy="264.34" r="2.1" fill="#fff" stroke="#cccccc" stroke-width="0.8"/>
<circle cx="425.5" cy="283.7" r="2.1" fill="#fff" stroke="#cccccc" stroke-width="0.8"/>
<circle cx="440.9" cy="266.54" r="2.1" fill="#fff" stroke="#cccccc" stroke-width="0.8"/>
<circle cx="425.5" cy="285.36" r="2.1" fill="#fff" stroke="#cccccc" stroke-width="0.8"/>
<circle cx="440.9" cy="264.24" r="2.1" fill="#fff" stroke="#cccccc" stroke-width="0.8"/>
<circle cx="425.5" cy="290.04" r="2.1" fill="#fff" stroke="#cccccc" stroke-width="0.8"/>
<circle cx="440.9" cy="217.7" r="2.1" fill="#fff" stroke="#cccccc" stroke-width="0.8"/>
<circle cx="425.5" cy="299.77" r="2.1" fill="#fff" stroke="#cccccc" stroke-width="0.8"/>
<circle cx="440.9" cy="285.36" r="2.1" fill="#fff" stroke="#cccccc" stroke-width="0.8"/>
<circle cx="425.5" cy="305.19" r="2.1" fill="#fff" stroke="#cccccc" stroke-width="0.8"/>
<circle cx="440.9" cy="240.47" r="2.1" fill="#fff" stroke="#cccccc" stroke-width="0.8"/>
<path d="M425.5 277.46 L440.9 240.93" fill="none" stroke="#f58c8c" stroke-width="1.15" stroke-linejoin="miter" />
<circle cx="425.5" cy="277.46" r="2.1" fill="#fff" stroke="#f06c6c" stroke-width="1.05"/>
<circle cx="440.9" cy="240.93" r="2.1" fill="#fff" stroke="#f06c6c" stroke-width="1.05"/>
<line x1="417" y1="274" x2="417" y2="283.6" stroke="#999" stroke-width="1.1" />
<circle cx="417" cy="278.7" r="2.45" fill="#767676" stroke="none" stroke-width="0"/>
<line x1="449.4" y1="242.5" x2="449.4" y2="253.2" stroke="#999" stroke-width="1.1" />
<circle cx="449.4" cy="247.8" r="2.45" fill="#767676" stroke="none" stroke-width="0"/>
<line x1="517.3" y1="215.1" x2="517.3" y2="326.8" stroke="#000" stroke-width="1.3" />
<line x1="512.7" y1="326.2" x2="517.3" y2="326.2" stroke="#000" stroke-width="1.3" />
<text x="510.7" y="330" font-size="10.8" text-anchor="end" font-weight="normal" fill="#000" >0</text>
<line x1="512.7" y1="307.78" x2="517.3" y2="307.78" stroke="#000" stroke-width="1.3" />
<text x="510.7" y="311.58" font-size="10.8" text-anchor="end" font-weight="normal" fill="#000" >100</text>
<line x1="512.7" y1="289.37" x2="517.3" y2="289.37" stroke="#000" stroke-width="1.3" />
<text x="510.7" y="293.17" font-size="10.8" text-anchor="end" font-weight="normal" fill="#000" >200</text>
<line x1="512.7" y1="270.95" x2="517.3" y2="270.95" stroke="#000" stroke-width="1.3" />
<text x="510.7" y="274.75" font-size="10.8" text-anchor="end" font-weight="normal" fill="#000" >300</text>
<line x1="512.7" y1="252.53" x2="517.3" y2="252.53" stroke="#000" stroke-width="1.3" />
<text x="510.7" y="256.33" font-size="10.8" text-anchor="end" font-weight="normal" fill="#000" >400</text>
<line x1="512.7" y1="234.12" x2="517.3" y2="234.12" stroke="#000" stroke-width="1.3" />
<text x="510.7" y="237.92" font-size="10.8" text-anchor="end" font-weight="normal" fill="#000" >500</text>
<line x1="512.7" y1="215.7" x2="517.3" y2="215.7" stroke="#000" stroke-width="1.3" />
<text x="510.7" y="219.5" font-size="10.8" text-anchor="end" font-weight="normal" fill="#000" >600</text>
<text x="485.6" y="270.2" font-size="10.8" text-anchor="middle" font-weight="normal" fill="#000" transform="rotate(-90 485.6 270.2)" >I<tspan font-size="7.0" dy="2.3">NMDA</tspan><tspan dy="-2.3"> (pA)</tspan></text>
<circle cx="532.3" cy="257.1" r="2.1" fill="#fff" stroke="#cccccc" stroke-width="0.8"/>
<circle cx="534.8" cy="255.5" r="2.1" fill="#fff" stroke="#cccccc" stroke-width="0.8"/>
<circle cx="536.6" cy="256.6" r="2.1" fill="#fff" stroke="#cccccc" stroke-width="0.8"/>
<circle cx="534.3" cy="261.7" r="2.1" fill="#fff" stroke="#cccccc" stroke-width="0.8"/>
<circle cx="534.3" cy="272.8" r="2.1" fill="#fff" stroke="#cccccc" stroke-width="0.8"/>
<circle cx="532.3" cy="281.6" r="2.1" fill="#fff" stroke="#cccccc" stroke-width="0.8"/>
<circle cx="536.6" cy="279" r="2.1" fill="#fff" stroke="#cccccc" stroke-width="0.8"/>
<circle cx="534.3" cy="294.8" r="2.1" fill="#fff" stroke="#cccccc" stroke-width="0.8"/>
<circle cx="534.3" cy="217.7" r="2.1" fill="#fff" stroke="#cccccc" stroke-width="0.8"/>
<circle cx="534.3" cy="265.6" r="2.1" fill="#fff" stroke="#f06c6c" stroke-width="1.05"/>
<line x1="527.1" y1="258.1" x2="527.1" y2="270.5" stroke="#999" stroke-width="1.1" />
<circle cx="527.1" cy="264.3" r="2.45" fill="#767676" stroke="none" stroke-width="0"/>
<text x="564.7" y="201.6" font-size="14.5" text-anchor="start" font-weight="bold" fill="#000" >f</text>
<line x1="617.4" y1="215.1" x2="617.4" y2="327" stroke="#000" stroke-width="1.3" />
<line x1="612.8" y1="326.4" x2="617.4" y2="326.4" stroke="#000" stroke-width="1.3" />
<text x="611" y="330" font-size="10" text-anchor="end" font-weight="normal" fill="#000" >0</text>
<line x1="612.8" y1="289.5" x2="617.4" y2="289.5" stroke="#000" stroke-width="1.3" />
<text x="611" y="293.1" font-size="10" text-anchor="end" font-weight="normal" fill="#000" >40</text>
<line x1="612.8" y1="252.6" x2="617.4" y2="252.6" stroke="#000" stroke-width="1.3" />
<text x="611" y="256.2" font-size="10" text-anchor="end" font-weight="normal" fill="#000" >80</text>
<line x1="612.8" y1="215.7" x2="617.4" y2="215.7" stroke="#000" stroke-width="1.3" />
<text x="611" y="219.3" font-size="10" text-anchor="end" font-weight="normal" fill="#000" >120</text>
<line x1="615" y1="307.95" x2="617.4" y2="307.95" stroke="#000" stroke-width="1.3" />
<line x1="615" y1="271.05" x2="617.4" y2="271.05" stroke="#000" stroke-width="1.3" />
<line x1="615" y1="234.15" x2="617.4" y2="234.15" stroke="#000" stroke-width="1.3" />
<line x1="620.5" y1="330" x2="666.4" y2="330" stroke="#000" stroke-width="1.3" />
<text x="637.4" y="338.8" font-size="10" text-anchor="middle" font-weight="normal" fill="#000" >-</text>
<text x="650.7" y="338.8" font-size="10" text-anchor="middle" font-weight="normal" fill="#000" >+</text>
<text x="646.3" y="348.2" font-size="9.5" text-anchor="middle" font-weight="normal" fill="#000" >sucrose</text>
<line x1="627.9" y1="210.3" x2="660.5" y2="210.3" stroke="#000" stroke-width="1.3" />
<text x="643.3" y="210.7" font-size="10.4" text-anchor="middle" font-weight="normal" fill="#000" >**</text>
<text x="588.3" y="271.2" font-size="10.6" text-anchor="middle" font-weight="normal" fill="#000" transform="rotate(-90 588.3 271.2)" >[glutamate] (nM)</text>
<path d="M635.6 272.43 L651.3 225.66" fill="none" stroke="#cccccc" stroke-width="0.9" stroke-linejoin="miter" />
<path d="M635.6 272.43 L651.3 266.53" fill="none" stroke="#cccccc" stroke-width="0.9" stroke-linejoin="miter" />
<path d="M635.6 285.26 L651.3 279.26" fill="none" stroke="#cccccc" stroke-width="0.9" stroke-linejoin="miter" />
<path d="M635.6 297.62 L651.3 285.26" fill="none" stroke="#cccccc" stroke-width="0.9" stroke-linejoin="miter" />
<path d="M635.6 302.05 L651.3 292.64" fill="none" stroke="#cccccc" stroke-width="0.9" stroke-linejoin="miter" />
<path d="M635.6 305.83 L651.3 296.05" fill="none" stroke="#cccccc" stroke-width="0.9" stroke-linejoin="miter" />
<path d="M635.6 309.43 L651.3 299.09" fill="none" stroke="#cccccc" stroke-width="0.9" stroke-linejoin="miter" />
<path d="M635.6 312.93 L651.3 289.5" fill="none" stroke="#cccccc" stroke-width="0.9" stroke-linejoin="miter" />
<path d="M635.6 300.57 L651.3 282.3" fill="none" stroke="#cccccc" stroke-width="0.9" stroke-linejoin="miter" />
<circle cx="635.6" cy="272.43" r="2.1" fill="#fff" stroke="#cccccc" stroke-width="0.8"/>
<circle cx="651.3" cy="225.66" r="2.1" fill="#fff" stroke="#cccccc" stroke-width="0.8"/>
<circle cx="635.6" cy="272.43" r="2.1" fill="#fff" stroke="#cccccc" stroke-width="0.8"/>
<circle cx="651.3" cy="266.53" r="2.1" fill="#fff" stroke="#cccccc" stroke-width="0.8"/>
<circle cx="635.6" cy="285.26" r="2.1" fill="#fff" stroke="#cccccc" stroke-width="0.8"/>
<circle cx="651.3" cy="279.26" r="2.1" fill="#fff" stroke="#cccccc" stroke-width="0.8"/>
<circle cx="635.6" cy="297.62" r="2.1" fill="#fff" stroke="#cccccc" stroke-width="0.8"/>
<circle cx="651.3" cy="285.26" r="2.1" fill="#fff" stroke="#cccccc" stroke-width="0.8"/>
<circle cx="635.6" cy="302.05" r="2.1" fill="#fff" stroke="#cccccc" stroke-width="0.8"/>
<circle cx="651.3" cy="292.64" r="2.1" fill="#fff" stroke="#cccccc" stroke-width="0.8"/>
<circle cx="635.6" cy="305.83" r="2.1" fill="#fff" stroke="#cccccc" stroke-width="0.8"/>
<circle cx="651.3" cy="296.05" r="2.1" fill="#fff" stroke="#cccccc" stroke-width="0.8"/>
<circle cx="635.6" cy="309.43" r="2.1" fill="#fff" stroke="#cccccc" stroke-width="0.8"/>
<circle cx="651.3" cy="299.09" r="2.1" fill="#fff" stroke="#cccccc" stroke-width="0.8"/>
<circle cx="635.6" cy="312.93" r="2.1" fill="#fff" stroke="#cccccc" stroke-width="0.8"/>
<circle cx="651.3" cy="289.5" r="2.1" fill="#fff" stroke="#cccccc" stroke-width="0.8"/>
<circle cx="635.6" cy="300.57" r="2.1" fill="#fff" stroke="#cccccc" stroke-width="0.8"/>
<circle cx="651.3" cy="282.3" r="2.1" fill="#fff" stroke="#cccccc" stroke-width="0.8"/>
<path d="M635.6 292.64 L651.3 273.08" fill="none" stroke="#f58c8c" stroke-width="1.15" stroke-linejoin="miter" />
<circle cx="635.6" cy="292.64" r="2.1" fill="#fff" stroke="#f06c6c" stroke-width="1.05"/>
<circle cx="651.3" cy="273.08" r="2.1" fill="#fff" stroke="#f06c6c" stroke-width="1.05"/>
<line x1="627.3" y1="292" x2="627.3" y2="299.4" stroke="#999" stroke-width="1.1" />
<circle cx="627.3" cy="295.7" r="2.3" fill="#767676" stroke="none" stroke-width="0"/>
<line x1="659.5" y1="271.8" x2="659.5" y2="285.1" stroke="#999" stroke-width="1.1" />
<circle cx="659.5" cy="278.3" r="2.3" fill="#767676" stroke="none" stroke-width="0"/>
</svg>
</body></html>
